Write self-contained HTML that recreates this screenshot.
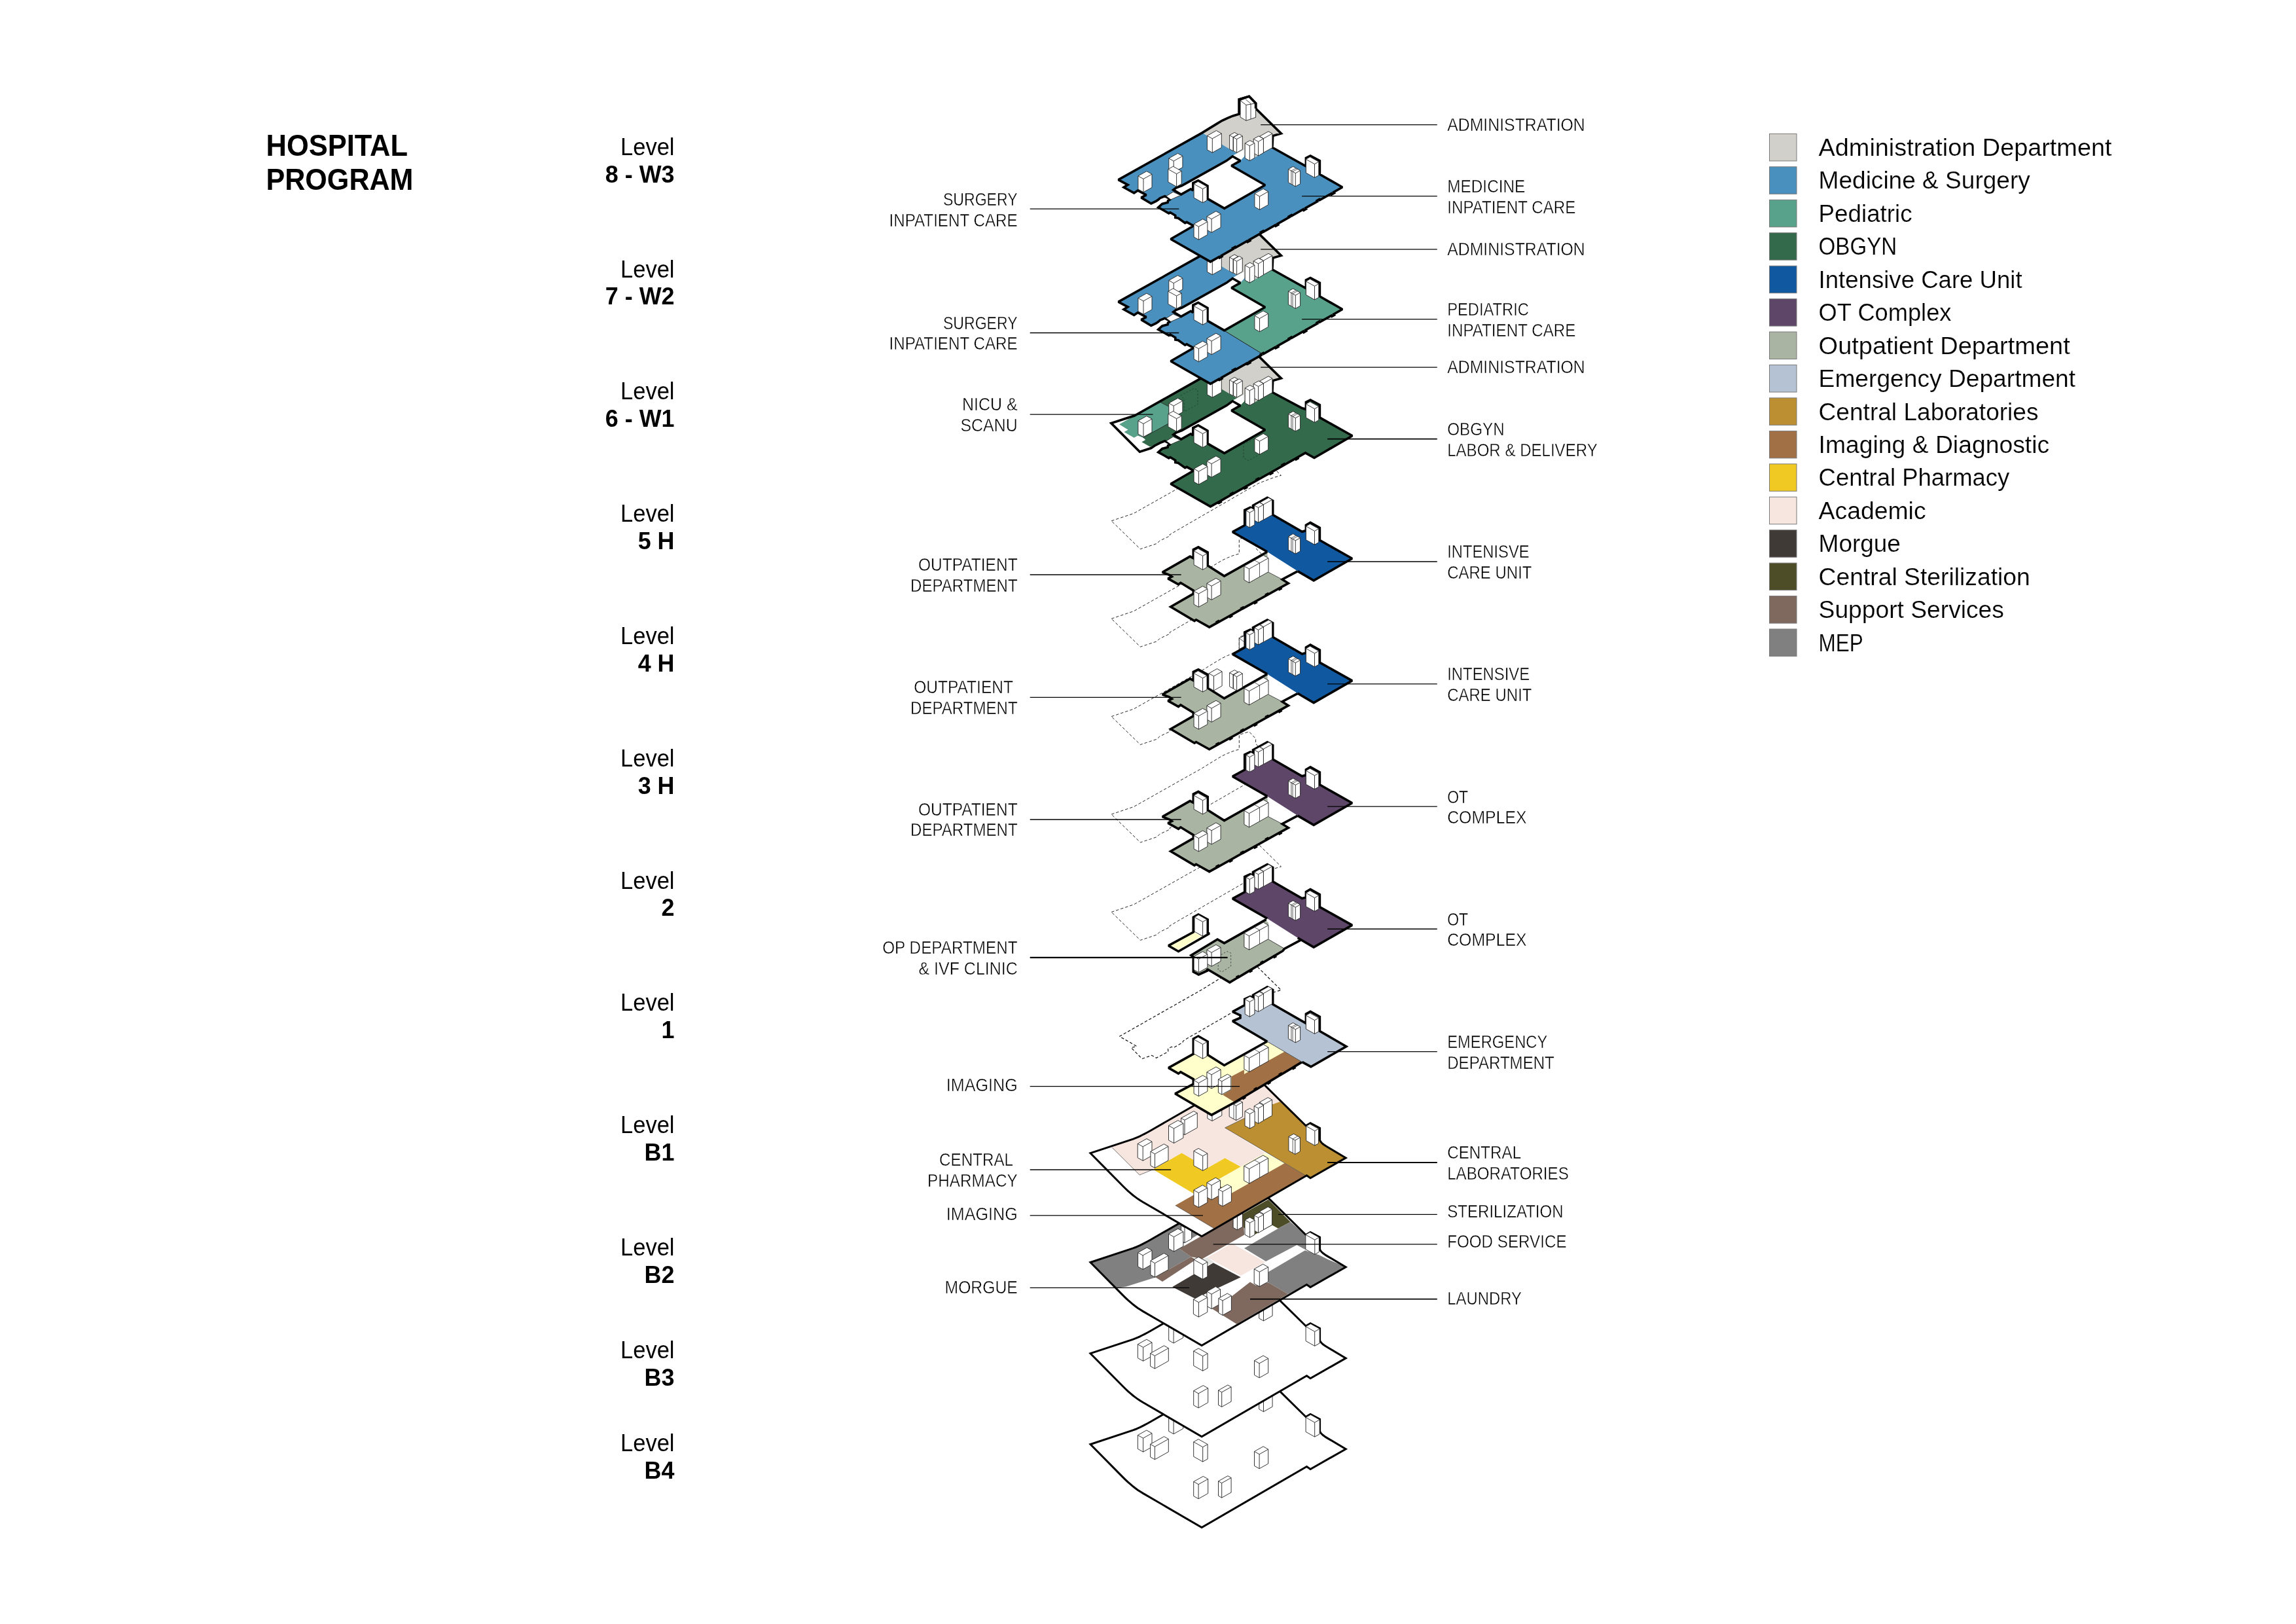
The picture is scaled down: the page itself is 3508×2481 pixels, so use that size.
<!DOCTYPE html>
<html><head><meta charset="utf-8"><title>Hospital Program</title>
<style>
html,body{margin:0;padding:0;background:#fff;}
body{width:3508px;height:2481px;overflow:hidden;font-family:"Liberation Sans",sans-serif;}
svg{display:block;position:absolute;left:0;top:0;will-change:transform}
text{font-family:"Liberation Sans",sans-serif;fill:#000}
</style></head><body>
<svg width="3508" height="2481" viewBox="0 0 3508 2481">
<rect width="3508" height="2481" fill="#fff"/>
<polygon points="1698.1,795.8 1732.2,784.3 1836.8,725.3 1847.7,718.5 1858.7,711.8 1867.1,706.7 1875.6,702.7 1884,699.3 1893.3,696.6 1893.3,674.3 1908.5,669.6 1918.6,680.2 1918.6,688.2 1957.4,726.3 1944.7,730 1922.8,738.4 1801.3,808.5 1787,816.9 1787.8,818.6 1771.8,826.2 1767.6,830.4 1742.3,838.8" fill="none" stroke="#111" stroke-width="0.9" stroke-linejoin="miter" stroke-miterlimit="2" stroke-dasharray="4.4 3"/>
<polygon points="1698.1,945.2 1732.2,933.7 1836.8,874.7 1847.7,867.9 1858.7,861.2 1867.1,856.1 1875.6,852.1 1884,848.7 1893.3,846 1893.3,823.7 1908.5,819 1918.6,829.6 1918.6,837.6 1957.4,875.7 1944.7,879.4 1922.8,887.8 1801.3,957.9 1787,966.3 1787.8,968 1771.8,975.6 1767.6,979.8 1742.3,988.2" fill="none" stroke="#111" stroke-width="0.9" stroke-linejoin="miter" stroke-miterlimit="2" stroke-dasharray="4.4 3"/>
<polygon points="1698.1,1094.6 1732.2,1083.1 1836.8,1024.1 1847.7,1017.3 1858.7,1010.6 1867.1,1005.5 1875.6,1001.5 1884,998.1 1893.3,995.4 1893.3,973.1 1908.5,968.4 1918.6,979 1918.6,987 1957.4,1025.1 1944.7,1028.8 1922.8,1037.2 1801.3,1107.3 1787,1115.7 1787.8,1117.4 1771.8,1125 1767.6,1129.2 1742.3,1137.6" fill="none" stroke="#111" stroke-width="0.9" stroke-linejoin="miter" stroke-miterlimit="2" stroke-dasharray="4.4 3"/>
<polygon points="1698.1,1244 1732.2,1232.5 1836.8,1173.5 1847.7,1166.7 1858.7,1160 1867.1,1154.9 1875.6,1150.9 1884,1147.5 1893.3,1144.8 1893.3,1122.5 1908.5,1117.8 1918.6,1128.4 1918.6,1136.4 1957.4,1174.5 1944.7,1178.2 1922.8,1186.6 1801.3,1256.7 1787,1265.1 1787.8,1266.8 1771.8,1274.4 1767.6,1278.6 1742.3,1287" fill="none" stroke="#111" stroke-width="0.9" stroke-linejoin="miter" stroke-miterlimit="2" stroke-dasharray="4.4 3"/>
<polygon points="1698.1,1393.4 1732.2,1381.9 1836.8,1322.9 1847.7,1316.1 1858.7,1309.4 1867.1,1304.3 1875.6,1300.3 1884,1296.9 1893.3,1294.2 1893.3,1271.9 1908.5,1267.2 1918.6,1277.8 1918.6,1285.8 1957.4,1323.9 1944.7,1327.6 1922.8,1336 1801.3,1406.1 1787,1414.5 1787.8,1416.2 1771.8,1423.8 1767.6,1428 1742.3,1436.4" fill="none" stroke="#111" stroke-width="0.9" stroke-linejoin="miter" stroke-miterlimit="2" stroke-dasharray="4.4 3"/>
<polyline points="1879.9,1548.3 1812,1587.5 1808,1590.1 1806.7,1592.7 1794.1,1600.1 1789.7,1599.3 1784.5,1602.3 1784.9,1606.7 1766.7,1616.2 1759.7,1612.3 1744.9,1617.5 1728.3,1600.6 1736.6,1598.4 1710.5,1583.3 1836.8,1511.6 1847.7,1504.8 1858.7,1498.1 1867.1,1493 1875.6,1489 1884,1485.6 1893.3,1482.9 1893.3,1460.6 1908.5,1455.9 1918.6,1466.5 1918.6,1474.5 1957.4,1512.6 1944.7,1516.3" fill="none" stroke="#111" stroke-width="1.2" stroke-linejoin="miter" stroke-miterlimit="2" stroke-dasharray="4.4 3"/>
<polygon points="1666,2206.5 1729,2185.7 1731.9,2184.7 1734.9,2183.5 1738.1,2182.1 1741.5,2180.6 1745.1,2178.8 1748.9,2176.9 1752.9,2174.8 1757,2172.5 1912.5,2083.2 1995.1,2164.5 2002.1,2160.5 2016.6,2168.1 2016.6,2185.7 2016.7,2186.8 2017.3,2188.1 2018.2,2189.4 2019.5,2190.8 2021.1,2192.3 2023.1,2193.8 2025.4,2195.4 2028.2,2197.1 2056.2,2213.7 2002.1,2244.5 1996.5,2240.5 1836.1,2333.5 1746,2281.1 1742.3,2278.8 1738.6,2276.4 1734.9,2273.7 1731.1,2270.8 1727.4,2267.7 1723.6,2264.4 1719.8,2260.8 1716,2257.1" fill="#fff" stroke="#000" stroke-width="3.0" stroke-linejoin="miter" stroke-miterlimit="2" />
<g stroke="#222" stroke-width="0.9" stroke-linejoin="round" fill="#fff"><polygon points="1923.7,2152.8 1930.5,2156.7 1944.1,2149 1944.1,2127 1937.3,2123.2 1923.7,2130.8"/><polyline points="1923.7,2130.8 1930.5,2134.6 1944.1,2127" fill="none"/><line x1="1930.5" y1="2156.7" x2="1930.5" y2="2134.6"/></g>
<g stroke="#222" stroke-width="0.9" stroke-linejoin="round" fill="#fff"><polygon points="1785.7,2186.5 1793.1,2190.7 1807.7,2182.5 1807.7,2160.5 1800.3,2156.3 1785.7,2164.5"/><polyline points="1785.7,2164.5 1793.1,2168.7 1807.7,2160.5" fill="none"/><line x1="1793.1" y1="2190.7" x2="1793.1" y2="2168.7"/></g>
<g stroke="#222" stroke-width="0.9" stroke-linejoin="round" fill="#fff"><polygon points="1738.4,2213.5 1746.6,2218.1 1760,2210.6 1760,2189.6 1751.8,2185 1738.4,2192.5"/><polyline points="1738.4,2192.5 1746.6,2197.1 1760,2189.6" fill="none"/><line x1="1746.6" y1="2218.1" x2="1746.6" y2="2197.1"/></g>
<g stroke="#222" stroke-width="0.9" stroke-linejoin="round" fill="#fff"><polygon points="1757.6,2225.9 1764.4,2229.7 1785.3,2218 1785.3,2198.4 1778.5,2194.6 1757.6,2206.3"/><polyline points="1757.6,2206.3 1764.4,2210.1 1785.3,2198.4" fill="none"/><line x1="1764.4" y1="2229.7" x2="1764.4" y2="2210.1"/></g>
<g stroke="#222" stroke-width="0.9" stroke-linejoin="round" fill="#fff"><polygon points="1823.7,2225.2 1837.7,2233.1 1845.1,2228.9 1845.1,2206.5 1831.1,2198.7 1823.7,2202.8"/><polyline points="1823.7,2202.8 1837.7,2210.7 1845.1,2206.5" fill="none"/><line x1="1837.7" y1="2233.1" x2="1837.7" y2="2210.7"/></g>
<g stroke="#222" stroke-width="0.9" stroke-linejoin="round" fill="#fff"><polygon points="1916.5,2239.4 1924.1,2243.7 1937.7,2236.1 1937.7,2214.1 1930.1,2209.8 1916.5,2217.4"/><polyline points="1916.5,2217.4 1924.1,2221.7 1937.7,2214.1" fill="none"/><line x1="1924.1" y1="2243.7" x2="1924.1" y2="2221.7"/></g>
<g stroke="#222" stroke-width="0.9" stroke-linejoin="round" fill="#fff"><polygon points="1823.7,2285.6 1831.1,2289.7 1845.7,2281.5 1845.7,2259.5 1838.3,2255.4 1823.7,2263.5"/><polyline points="1823.7,2263.5 1831.1,2267.7 1845.7,2259.5" fill="none"/><line x1="1831.1" y1="2289.7" x2="1831.1" y2="2267.7"/></g>
<g stroke="#222" stroke-width="0.9" stroke-linejoin="round" fill="#fff"><polygon points="1861.5,2285.2 1866.7,2288.1 1881.1,2280 1881.1,2257.6 1875.9,2254.7 1861.5,2262.8"/><polyline points="1861.5,2262.8 1866.7,2265.7 1881.1,2257.6" fill="none"/><line x1="1866.7" y1="2288.1" x2="1866.7" y2="2265.7"/></g>
<g stroke="#222" stroke-width="0.9" stroke-linejoin="round" fill="#fff"><polygon points="1995.1,2187.4 2008.7,2195.1 2016.2,2190.9 2016.2,2168.9 2002.5,2161.3 1995.1,2165.4"/><polyline points="1995.1,2165.4 2008.7,2173.1 2016.2,2168.9" fill="none"/><line x1="2008.7" y1="2195.1" x2="2008.7" y2="2173.1"/></g>
<polygon points="1666,2067.7 1729,2046.9 1731.9,2045.9 1734.9,2044.7 1738.1,2043.3 1741.5,2041.8 1745.1,2040 1748.9,2038.1 1752.9,2036 1757,2033.7 1912.5,1944.4 1995.1,2025.7 2002.1,2021.7 2016.6,2029.3 2016.6,2046.9 2016.7,2048 2017.3,2049.3 2018.2,2050.6 2019.5,2052 2021.1,2053.5 2023.1,2055 2025.4,2056.6 2028.2,2058.3 2056.2,2074.9 2002.1,2105.7 1996.5,2101.7 1836.1,2194.7 1746,2142.3 1742.3,2140 1738.6,2137.6 1734.9,2134.9 1731.1,2132 1727.4,2128.9 1723.6,2125.6 1719.8,2122 1716,2118.3" fill="#fff" stroke="#000" stroke-width="3.0" stroke-linejoin="miter" stroke-miterlimit="2" />
<g stroke="#222" stroke-width="0.9" stroke-linejoin="round" fill="#fff"><polygon points="1923.7,2014 1930.5,2017.9 1944.1,2010.2 1944.1,1988.2 1937.3,1984.4 1923.7,1992"/><polyline points="1923.7,1992 1930.5,1995.8 1944.1,1988.2" fill="none"/><line x1="1930.5" y1="2017.9" x2="1930.5" y2="1995.8"/></g>
<g stroke="#222" stroke-width="0.9" stroke-linejoin="round" fill="#fff"><polygon points="1785.7,2047.7 1793.1,2051.9 1807.7,2043.7 1807.7,2021.7 1800.3,2017.5 1785.7,2025.7"/><polyline points="1785.7,2025.7 1793.1,2029.9 1807.7,2021.7" fill="none"/><line x1="1793.1" y1="2051.9" x2="1793.1" y2="2029.9"/></g>
<g stroke="#222" stroke-width="0.9" stroke-linejoin="round" fill="#fff"><polygon points="1738.4,2074.7 1746.6,2079.3 1760,2071.8 1760,2050.8 1751.8,2046.2 1738.4,2053.7"/><polyline points="1738.4,2053.7 1746.6,2058.3 1760,2050.8" fill="none"/><line x1="1746.6" y1="2079.3" x2="1746.6" y2="2058.3"/></g>
<g stroke="#222" stroke-width="0.9" stroke-linejoin="round" fill="#fff"><polygon points="1757.6,2087.1 1764.4,2090.9 1785.3,2079.2 1785.3,2059.6 1778.5,2055.8 1757.6,2067.5"/><polyline points="1757.6,2067.5 1764.4,2071.3 1785.3,2059.6" fill="none"/><line x1="1764.4" y1="2090.9" x2="1764.4" y2="2071.3"/></g>
<g stroke="#222" stroke-width="0.9" stroke-linejoin="round" fill="#fff"><polygon points="1823.7,2086.4 1837.7,2094.3 1845.1,2090.1 1845.1,2067.7 1831.1,2059.9 1823.7,2064"/><polyline points="1823.7,2064 1837.7,2071.9 1845.1,2067.7" fill="none"/><line x1="1837.7" y1="2094.3" x2="1837.7" y2="2071.9"/></g>
<g stroke="#222" stroke-width="0.9" stroke-linejoin="round" fill="#fff"><polygon points="1916.5,2100.6 1924.1,2104.9 1937.7,2097.3 1937.7,2075.3 1930.1,2071 1916.5,2078.6"/><polyline points="1916.5,2078.6 1924.1,2082.9 1937.7,2075.3" fill="none"/><line x1="1924.1" y1="2104.9" x2="1924.1" y2="2082.9"/></g>
<g stroke="#222" stroke-width="0.9" stroke-linejoin="round" fill="#fff"><polygon points="1823.7,2146.8 1831.1,2150.9 1845.7,2142.7 1845.7,2120.7 1838.3,2116.6 1823.7,2124.7"/><polyline points="1823.7,2124.7 1831.1,2128.9 1845.7,2120.7" fill="none"/><line x1="1831.1" y1="2150.9" x2="1831.1" y2="2128.9"/></g>
<g stroke="#222" stroke-width="0.9" stroke-linejoin="round" fill="#fff"><polygon points="1861.5,2146.4 1866.7,2149.3 1881.1,2141.2 1881.1,2118.8 1875.9,2115.9 1861.5,2124"/><polyline points="1861.5,2124 1866.7,2126.9 1881.1,2118.8" fill="none"/><line x1="1866.7" y1="2149.3" x2="1866.7" y2="2126.9"/></g>
<g stroke="#222" stroke-width="0.9" stroke-linejoin="round" fill="#fff"><polygon points="1995.1,2048.6 2008.7,2056.3 2016.2,2052.1 2016.2,2030.1 2002.5,2022.5 1995.1,2026.6"/><polyline points="1995.1,2026.6 2008.7,2034.3 2016.2,2030.1" fill="none"/><line x1="2008.7" y1="2056.3" x2="2008.7" y2="2034.3"/></g>
<polygon points="1666,1928.5 1729,1907.7 1731.9,1906.7 1734.9,1905.5 1738.1,1904.1 1741.5,1902.6 1745.1,1900.8 1748.9,1898.9 1752.9,1896.8 1757,1894.5 1912.5,1805.2 1995.1,1886.5 2002.1,1882.5 2016.6,1890.1 2016.6,1907.7 2016.7,1908.8 2017.3,1910.1 2018.2,1911.4 2019.5,1912.8 2021.1,1914.3 2023.1,1915.8 2025.4,1917.4 2028.2,1919.1 2056.2,1935.7 2002.1,1966.5 1996.5,1962.5 1836.1,2055.5 1746,2003.1 1742.3,2000.8 1738.6,1998.4 1734.9,1995.7 1731.1,1992.8 1727.4,1989.7 1723.6,1986.4 1719.8,1982.8 1716,1979.1" fill="#fff" stroke="none" stroke-width="3.6" stroke-linejoin="miter" stroke-miterlimit="2" />
<clipPath id="cb2"><polygon points="1666,1928.5 1729,1907.7 1731.9,1906.7 1734.9,1905.5 1738.1,1904.1 1741.5,1902.6 1745.1,1900.8 1748.9,1898.9 1752.9,1896.8 1757,1894.5 1912.5,1805.2 1995.1,1886.5 2002.1,1882.5 2016.6,1890.1 2016.6,1907.7 2016.7,1908.8 2017.3,1910.1 2018.2,1911.4 2019.5,1912.8 2021.1,1914.3 2023.1,1915.8 2025.4,1917.4 2028.2,1919.1 2056.2,1935.7 2002.1,1966.5 1996.5,1962.5 1836.1,2055.5 1746,2003.1 1742.3,2000.8 1738.6,1998.4 1734.9,1995.7 1731.1,1992.8 1727.4,1989.7 1723.6,1986.4 1719.8,1982.8 1716,1979.1"/></clipPath><g clip-path="url(#cb2)">
<polygon points="1665.7,1928.4 1663.6,1909.3 1752.9,1873.6 1838.6,1830.7 1838.6,1881.6 1808.2,1899.5 1802,1907.5 1819.8,1920 1764.5,1951.8 1720.7,1965.5 1704.6,1967.9" fill="#808080" stroke="none" stroke-width="3.6" stroke-linejoin="miter" stroke-miterlimit="2" />
<polygon points="1802,1907.5 1899.3,1852.1 1901.1,1886.4 1836.8,1923.2 1819.8,1920" fill="#7f685e" stroke="none" stroke-width="3.6" stroke-linejoin="miter" stroke-miterlimit="2" />
<polygon points="1765.4,1951.2 1819.8,1920 1827,1924.5 1776.1,1957.9" fill="#7f685e" stroke="none" stroke-width="3.6" stroke-linejoin="miter" stroke-miterlimit="2" />
<polygon points="1898.4,1854.8 1937.7,1832.5 1971.6,1866.8 1952.9,1876.8 1943.9,1871.8 1917.1,1886.1 1900.2,1875.4" fill="#4d4d27" stroke="none" stroke-width="3.6" stroke-linejoin="miter" stroke-miterlimit="2" />
<polygon points="1901.1,1907.1 1952.9,1876.8 1971.6,1866.8 1994.8,1887 1994.8,1909.3 1981.4,1902.1 1934.1,1927.1" fill="#808080" stroke="none" stroke-width="3.6" stroke-linejoin="miter" stroke-miterlimit="2" />
<polygon points="1937.7,1943.2 1993.9,1910.2 2015.4,1917.3 2027.9,1923.6 2056.4,1935.7 2002,1966.8 1996.6,1962.9 1968,1977.1 1937.7,1959.3" fill="#808080" stroke="none" stroke-width="3.6" stroke-linejoin="miter" stroke-miterlimit="2" />
<polygon points="1844.8,1920.9 1882.3,1899.5 1933.2,1928 1895.7,1948.9" fill="#f7e6df" stroke="none" stroke-width="3.6" stroke-linejoin="miter" stroke-miterlimit="2" />
<polygon points="1791.2,1966.1 1853.8,1929.3 1895.7,1951.2 1826.1,1983.9" fill="#403a36" stroke="none" stroke-width="3.6" stroke-linejoin="miter" stroke-miterlimit="2" />
<polygon points="1837.7,1923.6 1844.8,1920.9 1854.6,1928 1845.7,1932.5" fill="#e4e4e2" stroke="none" stroke-width="3.6" stroke-linejoin="miter" stroke-miterlimit="2" />
<polygon points="1852,1999.5 1880.5,1981.6 1910,1958.4 1918.9,1963.8 1937.7,1959.3 1968,1977.1 1889.5,2022.7" fill="#7f685e" stroke="none" stroke-width="3.6" stroke-linejoin="miter" stroke-miterlimit="2" />
</g>
<polygon points="1666,1928.5 1729,1907.7 1731.9,1906.7 1734.9,1905.5 1738.1,1904.1 1741.5,1902.6 1745.1,1900.8 1748.9,1898.9 1752.9,1896.8 1757,1894.5 1912.5,1805.2 1995.1,1886.5 2002.1,1882.5 2016.6,1890.1 2016.6,1907.7 2016.7,1908.8 2017.3,1910.1 2018.2,1911.4 2019.5,1912.8 2021.1,1914.3 2023.1,1915.8 2025.4,1917.4 2028.2,1919.1 2056.2,1935.7 2002.1,1966.5 1996.5,1962.5 1836.1,2055.5 1746,2003.1 1742.3,2000.8 1738.6,1998.4 1734.9,1995.7 1731.1,1992.8 1727.4,1989.7 1723.6,1986.4 1719.8,1982.8 1716,1979.1" fill="none" stroke="#000" stroke-width="3.0" stroke-linejoin="miter" stroke-miterlimit="2" />
<g stroke="#222" stroke-width="0.9" stroke-linejoin="round" fill="#fff"><polygon points="1804.6,1895.6 1810,1898.6 1820.7,1892.6 1820.7,1869.4 1815.4,1866.4 1804.6,1872.4"/><polyline points="1804.6,1872.4 1810,1875.4 1820.7,1869.4" fill="none"/><line x1="1810" y1="1898.6" x2="1810" y2="1875.4"/></g>
<g stroke="#222" stroke-width="0.9" stroke-linejoin="round" fill="#fff"><polygon points="1785.5,1907.5 1793.6,1912 1807.9,1904 1807.9,1881.6 1799.8,1877.1 1785.5,1885.1"/><polyline points="1785.5,1885.1 1793.6,1889.6 1807.9,1881.6" fill="none"/><line x1="1793.6" y1="1912" x2="1793.6" y2="1889.6"/></g>
<g stroke="#222" stroke-width="0.9" stroke-linejoin="round" fill="#fff"><polygon points="1738.6,1935 1746.2,1939.3 1760,1931.6 1760,1910.2 1752.3,1905.9 1738.6,1913.6"/><polyline points="1738.6,1913.6 1746.2,1917.9 1760,1910.2" fill="none"/><line x1="1746.2" y1="1939.3" x2="1746.2" y2="1917.9"/></g>
<g stroke="#222" stroke-width="0.9" stroke-linejoin="round" fill="#fff"><polygon points="1757.9,1947.5 1764.5,1951.2 1785,1939.8 1785,1918.3 1778.4,1914.6 1757.9,1926.1"/><polyline points="1757.9,1926.1 1764.5,1929.8 1785,1918.3" fill="none"/><line x1="1764.5" y1="1951.2" x2="1764.5" y2="1929.8"/></g>
<g stroke="#222" stroke-width="0.9" stroke-linejoin="round" fill="#fff"><polygon points="1823.9,1946.6 1837.7,1954.3 1844.8,1950.3 1844.8,1928 1831.1,1920.3 1823.9,1924.3"/><polyline points="1823.9,1924.3 1837.7,1932 1844.8,1928" fill="none"/><line x1="1837.7" y1="1954.3" x2="1837.7" y2="1932"/></g>
<g stroke="#222" stroke-width="0.9" stroke-linejoin="round" fill="#fff"><polygon points="1884.1,1875.4 1890.4,1878.9 1898.4,1874.4 1898.4,1850.3 1892.1,1846.8 1884.1,1851.3"/><polyline points="1884.1,1851.3 1890.4,1854.8 1898.4,1850.3" fill="none"/><line x1="1890.4" y1="1878.9" x2="1890.4" y2="1854.8"/></g>
<g stroke="#222" stroke-width="0.9" stroke-linejoin="round" fill="#fff"><polygon points="1924.3,1875.1 1930.5,1878.6 1943.6,1871.3 1943.6,1847.2 1937.3,1843.7 1924.3,1851"/><polyline points="1924.3,1851 1930.5,1854.5 1943.6,1847.2" fill="none"/><line x1="1930.5" y1="1878.6" x2="1930.5" y2="1854.5"/></g>
<g stroke="#222" stroke-width="0.9" stroke-linejoin="round" fill="#fff"><polygon points="1916.2,1879.9 1922.5,1883.4 1930.5,1878.9 1930.5,1855.7 1924.3,1852.2 1916.2,1856.7"/><polyline points="1916.2,1856.7 1922.5,1860.2 1930.5,1855.7" fill="none"/><line x1="1922.5" y1="1883.4" x2="1922.5" y2="1860.2"/></g>
<g stroke="#222" stroke-width="0.9" stroke-linejoin="round" fill="#fff"><polygon points="1902,1886.2 1909.6,1890.5 1917.1,1886.3 1917.1,1864 1909.5,1859.7 1902,1863.9"/><polyline points="1902,1863.9 1909.6,1868.2 1917.1,1864" fill="none"/><line x1="1909.6" y1="1890.5" x2="1909.6" y2="1868.2"/></g>
<g stroke="#222" stroke-width="0.9" stroke-linejoin="round" fill="#fff"><polygon points="1994.8,1908.6 2008.8,1916.4 2015.4,1912.7 2015.4,1890.4 2001.4,1882.6 1994.8,1886.3"/><polyline points="1994.8,1886.3 2008.8,1894.1 2015.4,1890.4" fill="none"/><line x1="2008.8" y1="1916.4" x2="2008.8" y2="1894.1"/></g>
<g stroke="#222" stroke-width="0.9" stroke-linejoin="round" fill="#fff"><polygon points="1916.2,1961 1924.3,1965.5 1937.7,1958 1937.7,1935.7 1929.6,1931.2 1916.2,1938.7"/><polyline points="1916.2,1938.7 1924.3,1943.2 1937.7,1935.7" fill="none"/><line x1="1924.3" y1="1965.5" x2="1924.3" y2="1943.2"/></g>
<g stroke="#222" stroke-width="0.9" stroke-linejoin="round" fill="#fff"><polygon points="1843.9,1995.5 1851.1,1999.5 1864.5,1992 1864.5,1969.6 1857.3,1965.6 1843.9,1973.1"/><polyline points="1843.9,1973.1 1851.1,1977.1 1864.5,1969.6" fill="none"/><line x1="1851.1" y1="1999.5" x2="1851.1" y2="1977.1"/></g>
<g stroke="#222" stroke-width="0.9" stroke-linejoin="round" fill="#fff"><polygon points="1823.4,2007.5 1831.4,2012 1844.8,2004.5 1844.8,1982.1 1836.8,1977.6 1823.4,1985.1"/><polyline points="1823.4,1985.1 1831.4,1989.6 1844.8,1982.1" fill="none"/><line x1="1831.4" y1="2012" x2="1831.4" y2="1989.6"/></g>
<g stroke="#222" stroke-width="0.9" stroke-linejoin="round" fill="#fff"><polygon points="1861.8,2005.8 1868,2009.3 1881.4,2001.8 1881.4,1979.5 1875.2,1976 1861.8,1983.5"/><polyline points="1861.8,1983.5 1868,1987 1881.4,1979.5" fill="none"/><line x1="1868" y1="2009.3" x2="1868" y2="1987"/></g>
<polygon points="1666,1761.7 1729,1740.9 1731.9,1739.9 1734.9,1738.7 1738.1,1737.3 1741.5,1735.8 1745.1,1734 1748.9,1732.1 1752.9,1730 1757,1727.7 1912.5,1638.4 1995.1,1719.7 2002.1,1715.7 2016.6,1723.3 2016.6,1740.9 2016.7,1742 2017.3,1743.3 2018.2,1744.6 2019.5,1746 2021.1,1747.5 2023.1,1749 2025.4,1750.6 2028.2,1752.3 2056.2,1768.9 2002.1,1799.7 1996.5,1795.7 1836.1,1888.7 1746,1836.3 1742.3,1834 1738.6,1831.6 1734.9,1828.9 1731.1,1826 1727.4,1822.9 1723.6,1819.6 1719.8,1816 1716,1812.3" fill="#fff" stroke="none" stroke-width="3.6" stroke-linejoin="miter" stroke-miterlimit="2" />
<clipPath id="cb1"><polygon points="1666,1761.7 1729,1740.9 1731.9,1739.9 1734.9,1738.7 1738.1,1737.3 1741.5,1735.8 1745.1,1734 1748.9,1732.1 1752.9,1730 1757,1727.7 1912.5,1638.4 1995.1,1719.7 2002.1,1715.7 2016.6,1723.3 2016.6,1740.9 2016.7,1742 2017.3,1743.3 2018.2,1744.6 2019.5,1746 2021.1,1747.5 2023.1,1749 2025.4,1750.6 2028.2,1752.3 2056.2,1768.9 2002.1,1799.7 1996.5,1795.7 1836.1,1888.7 1746,1836.3 1742.3,1834 1738.6,1831.6 1734.9,1828.9 1731.1,1826 1727.4,1822.9 1723.6,1819.6 1719.8,1816 1716,1812.3"/></clipPath><g clip-path="url(#cb1)">
<polygon points="1699.3,1753.2 1695.7,1735.7 1752.9,1703.6 1821.6,1667.9 1932.3,1641.1 1955.5,1683 1944.8,1687.1 1871.6,1722.9 1933.2,1761.6 1895.7,1782.5 1871.6,1769.3 1837.7,1788.4 1805.5,1761.6 1761.8,1786.6 1741.2,1795" fill="#f7e6df" stroke="none" stroke-width="3.6" stroke-linejoin="miter" stroke-miterlimit="2" />
<polygon points="1871.6,1722.9 1944.8,1687.1 1955.5,1683 1994.8,1718.8 2002,1716.1 2016.8,1724.1 2016.8,1742.9 2027.9,1753.6 2056.4,1768.8 2002,1800.4 1995.7,1796.4" fill="#bd8f33" stroke="none" stroke-width="3.6" stroke-linejoin="miter" stroke-miterlimit="2" />
<polygon points="1761.8,1786.6 1805.5,1761.6 1837.7,1780.4 1837.7,1788.4 1871.6,1769.3 1895.7,1782.5 1823.4,1823.2" fill="#f0ca22" stroke="none" stroke-width="3.6" stroke-linejoin="miter" stroke-miterlimit="2" />
<polygon points="1856.4,1805.4 1895.7,1782.5 1933.2,1761.6 1962.7,1777.1 1881.4,1822.9 1865.4,1814.3" fill="#ffffcb" stroke="none" stroke-width="3.6" stroke-linejoin="miter" stroke-miterlimit="2" />
<polygon points="1795.7,1841.4 1856.4,1807.1 1881.4,1822.9 1962.7,1777.1 1995.7,1796.4 1854.6,1876.4" fill="#a27045" stroke="none" stroke-width="3.6" stroke-linejoin="miter" stroke-miterlimit="2" />
<polyline points="1699.3,1753.2 1741.2,1795 1761.8,1786.6" fill="none" stroke="#444" stroke-width="0.7" stroke-linejoin="miter" stroke-miterlimit="2" />
<polyline points="1944.8,1687.1 1871.6,1722.9 1995.7,1796.4" fill="none" stroke="#444" stroke-width="0.7" stroke-linejoin="miter" stroke-miterlimit="2" />
<polyline points="1795.7,1841.4 1854.6,1876.4" fill="none" stroke="#444" stroke-width="0.7" stroke-linejoin="miter" stroke-miterlimit="2" />
</g>
<polygon points="1666,1761.7 1729,1740.9 1731.9,1739.9 1734.9,1738.7 1738.1,1737.3 1741.5,1735.8 1745.1,1734 1748.9,1732.1 1752.9,1730 1757,1727.7 1912.5,1638.4 1995.1,1719.7 2002.1,1715.7 2016.6,1723.3 2016.6,1740.9 2016.7,1742 2017.3,1743.3 2018.2,1744.6 2019.5,1746 2021.1,1747.5 2023.1,1749 2025.4,1750.6 2028.2,1752.3 2056.2,1768.9 2002.1,1799.7 1996.5,1795.7 1836.1,1888.7 1746,1836.3 1742.3,1834 1738.6,1831.6 1734.9,1828.9 1731.1,1826 1727.4,1822.9 1723.6,1819.6 1719.8,1816 1716,1812.3" fill="none" stroke="#000" stroke-width="3.0" stroke-linejoin="miter" stroke-miterlimit="2" />
<g stroke="#222" stroke-width="0.9" stroke-linejoin="round" fill="#fff"><polygon points="1844.8,1708.5 1852,1712.5 1866.8,1704.2 1866.8,1686.3 1859.6,1682.3 1844.8,1690.6"/><polyline points="1844.8,1690.6 1852,1694.6 1866.8,1686.3" fill="none"/><line x1="1852" y1="1712.5" x2="1852" y2="1694.6"/></g>
<g stroke="#222" stroke-width="0.9" stroke-linejoin="round" fill="#fff"><polygon points="1804.6,1730.6 1810,1733.6 1829.3,1722.8 1829.3,1700.5 1823.9,1697.5 1804.6,1708.2"/><polyline points="1804.6,1708.2 1810,1711.2 1829.3,1700.5" fill="none"/><line x1="1810" y1="1733.6" x2="1810" y2="1711.2"/></g>
<g stroke="#222" stroke-width="0.9" stroke-linejoin="round" fill="#fff"><polygon points="1785.5,1741.9 1793.6,1746.4 1807.9,1738.4 1807.9,1716.1 1799.8,1711.6 1785.5,1719.6"/><polyline points="1785.5,1719.6 1793.6,1724.1 1807.9,1716.1" fill="none"/><line x1="1793.6" y1="1746.4" x2="1793.6" y2="1724.1"/></g>
<g stroke="#222" stroke-width="0.9" stroke-linejoin="round" fill="#fff"><polygon points="1738.2,1768.7 1746.2,1773.2 1760,1765.5 1760,1744.1 1752,1739.6 1738.2,1747.3"/><polyline points="1738.2,1747.3 1746.2,1751.8 1760,1744.1" fill="none"/><line x1="1746.2" y1="1773.2" x2="1746.2" y2="1751.8"/></g>
<g stroke="#222" stroke-width="0.9" stroke-linejoin="round" fill="#fff"><polygon points="1757.9,1780.6 1764.5,1784.3 1785,1772.8 1785,1751.4 1778.4,1747.7 1757.9,1759.2"/><polyline points="1757.9,1759.2 1764.5,1762.9 1785,1751.4" fill="none"/><line x1="1764.5" y1="1784.3" x2="1764.5" y2="1762.9"/></g>
<g stroke="#222" stroke-width="0.9" stroke-linejoin="round" fill="#fff"><polygon points="1823.9,1780.7 1837.7,1788.4 1844.8,1784.4 1844.8,1762.1 1831.1,1754.4 1823.9,1758.4"/><polyline points="1823.9,1758.4 1837.7,1766.1 1844.8,1762.1" fill="none"/><line x1="1837.7" y1="1788.4" x2="1837.7" y2="1766.1"/></g>
<g stroke="#222" stroke-width="0.9" stroke-linejoin="round" fill="#fff"><polygon points="1878.2,1705.8 1888.6,1711.6 1898.4,1706.1 1898.4,1683.8 1888,1678 1878.2,1683.5"/><polyline points="1878.2,1683.5 1888.6,1689.3 1898.4,1683.8" fill="none"/><line x1="1888.6" y1="1711.6" x2="1888.6" y2="1689.3"/><polyline points="1885,1709.6 1885,1687.3 1894.8,1681.8" fill="none" stroke-width="0.7200000000000001"/></g>
<g stroke="#222" stroke-width="0.9" stroke-linejoin="round" fill="#fff"><polygon points="1924.3,1708.1 1930.5,1711.6 1943.6,1704.3 1943.6,1680.2 1937.3,1676.7 1924.3,1684"/><polyline points="1924.3,1684 1930.5,1687.5 1943.6,1680.2" fill="none"/><line x1="1930.5" y1="1711.6" x2="1930.5" y2="1687.5"/></g>
<g stroke="#222" stroke-width="0.9" stroke-linejoin="round" fill="#fff"><polygon points="1916.2,1712.9 1922.5,1716.4 1930.5,1711.9 1930.5,1688.7 1924.3,1685.2 1916.2,1689.7"/><polyline points="1916.2,1689.7 1922.5,1693.2 1930.5,1688.7" fill="none"/><line x1="1922.5" y1="1716.4" x2="1922.5" y2="1693.2"/></g>
<g stroke="#222" stroke-width="0.9" stroke-linejoin="round" fill="#fff"><polygon points="1902,1719.8 1909.6,1724.1 1917.1,1719.9 1917.1,1697.6 1909.5,1693.3 1902,1697.5"/><polyline points="1902,1697.5 1909.6,1701.8 1917.1,1697.6" fill="none"/><line x1="1909.6" y1="1724.1" x2="1909.6" y2="1701.8"/></g>
<g stroke="#222" stroke-width="0.9" stroke-linejoin="round" fill="#fff"><polygon points="1968.9,1757.9 1978.8,1763.4 1986.4,1759.1 1986.4,1737.7 1976.6,1732.2 1968.9,1736.5"/><polyline points="1968.9,1736.5 1978.8,1742 1986.4,1737.7" fill="none"/><line x1="1978.8" y1="1763.4" x2="1978.8" y2="1742"/><polyline points="1975.2,1761.4 1975.2,1740 1982.9,1735.7" fill="none" stroke-width="0.7200000000000001"/></g>
<g stroke="#222" stroke-width="0.9" stroke-linejoin="round" fill="#fff"><polygon points="1995.7,1742.7 2008.8,1750 2014.5,1746.8 2014.5,1724.5 2001.4,1717.2 1995.7,1720.4"/><polyline points="1995.7,1720.4 2008.8,1727.7 2014.5,1724.5" fill="none"/><line x1="2008.8" y1="1750" x2="2008.8" y2="1727.7"/></g>
<g stroke="#222" stroke-width="0.9" stroke-linejoin="round" fill="#fff"><polygon points="1900.7,1803.6 1908.6,1808 1937.7,1791.7 1937.7,1769.4 1929.8,1765 1900.7,1781.3"/><polyline points="1900.7,1781.3 1908.6,1785.7 1937.7,1769.4" fill="none"/><line x1="1908.6" y1="1808" x2="1908.6" y2="1785.7"/><polyline points="1924.6,1799 1924.6,1776.7 1916.8,1772.3" fill="none" stroke-width="0.7200000000000001"/></g>
<g stroke="#222" stroke-width="0.9" stroke-linejoin="round" fill="#fff"><polygon points="1843.9,1829 1851.1,1833 1864.5,1825.5 1864.5,1803.2 1857.3,1799.2 1843.9,1806.7"/><polyline points="1843.9,1806.7 1851.1,1810.7 1864.5,1803.2" fill="none"/><line x1="1851.1" y1="1833" x2="1851.1" y2="1810.7"/></g>
<g stroke="#222" stroke-width="0.9" stroke-linejoin="round" fill="#fff"><polygon points="1823.9,1840.4 1831.4,1844.6 1844.8,1837.1 1844.8,1814.8 1837.3,1810.6 1823.9,1818.1"/><polyline points="1823.9,1818.1 1831.4,1822.3 1844.8,1814.8" fill="none"/><line x1="1831.4" y1="1844.6" x2="1831.4" y2="1822.3"/></g>
<g stroke="#222" stroke-width="0.9" stroke-linejoin="round" fill="#fff"><polygon points="1861.8,1839.4 1868,1842.9 1881.4,1835.4 1881.4,1813 1875.2,1809.5 1861.8,1817"/><polyline points="1861.8,1817 1868,1820.5 1881.4,1813" fill="none"/><line x1="1868" y1="1842.9" x2="1868" y2="1820.5"/></g>
<polygon points="1785.3,1631.4 1823.3,1610.1 1823.3,1587 1830.9,1583.1 1845.2,1591.2 1845.2,1611.5 1870.5,1627.5 1936.3,1590.7 1962.5,1606.4 1989.4,1622.4 1977,1629.9 1977.9,1631.2 1976,1632.3 1975.2,1631 1958,1641.3 1957.3,1640.2 1955.5,1641.3 1956.1,1642.4 1938.9,1652.7 1939.7,1654 1937.9,1655.1 1937.1,1653.8 1919.9,1664.1 1919.2,1663 1917.4,1664.1 1918,1665.2 1900.8,1675.5 1901.6,1676.8 1899.8,1678 1899,1676.6 1886.5,1684 1851.1,1703.4 1795.4,1670.8 1823.3,1656.2 1823.3,1648.6 1803.9,1637.6 1800.5,1640.1" fill="#ffffcb" stroke="none" stroke-width="3.6" stroke-linejoin="miter" stroke-miterlimit="2" />
<polygon points="1962.5,1606.7 1989.4,1622.4 1977,1629.9 1977.9,1631.2 1976,1632.3 1975.2,1631 1958,1641.3 1957.3,1640.2 1955.5,1641.3 1956.1,1642.4 1938.9,1652.7 1939.7,1654 1937.9,1655.1 1937.1,1653.8 1919.9,1664.1 1919.2,1663 1917.4,1664.1 1918,1665.2 1900.8,1675.5 1901.6,1676.8 1899.8,1678 1899,1676.6 1886.5,1684 1868,1672.5 1881.5,1664.6 1881.5,1644.4 1900.9,1634.2 1900.9,1641" fill="#a27045" stroke="none" stroke-width="3.6" stroke-linejoin="miter" stroke-miterlimit="2" />
<polyline points="1989.4,1622.4 1977,1629.9 1977.9,1631.2 1976,1632.3 1975.2,1631 1958,1641.3 1957.3,1640.2 1955.5,1641.3 1956.1,1642.4 1938.9,1652.7 1939.7,1654 1937.9,1655.1 1937.1,1653.8 1919.9,1664.1 1919.2,1663 1917.4,1664.1 1918,1665.2 1900.8,1675.5 1901.6,1676.8 1899.8,1678 1899,1676.6 1886.5,1684 1851.1,1703.4 1795.4,1670.8 1823.3,1656.2 1823.3,1648.6 1803.9,1637.6 1800.5,1640.1 1785.3,1631.4 1823.3,1610.1 1823.3,1587 1830.9,1583.1 1845.2,1591.2 1845.2,1611.5 1870.5,1627.5 1936.3,1590.7" fill="none" stroke="#000" stroke-width="3.6" stroke-linejoin="miter" stroke-miterlimit="2" />
<polygon points="1883.2,1545.7 1901.7,1535.5 1901.7,1526.3 1910.2,1522.4 1914.4,1524.6 1914.4,1520.4 1936.3,1507.7 1944.7,1512.3 1944.7,1534.2 1995.4,1563.4 1995.4,1549 2002.1,1545.3 2016.4,1553.3 2016.4,1575.2 2056.9,1598.8 2002.9,1629.7 1989.4,1622.4 1936.3,1591.2 1883.2,1560 1895,1555 1895,1551.1" fill="#b5c2d3" stroke="none" stroke-width="3.6" stroke-linejoin="miter" stroke-miterlimit="2" />
<polyline points="1936.3,1591.2 1883.2,1560 1895,1555 1895,1551.1 1883.2,1545.7 1901.7,1535.5 1901.7,1526.3 1910.2,1522.4 1914.4,1524.6 1914.4,1520.4 1936.3,1507.7 1944.7,1512.3 1944.7,1534.2 1995.4,1563.4 1995.4,1549 2002.1,1545.3 2016.4,1553.3 2016.4,1575.2 2056.9,1598.8 2002.9,1629.7 1989.4,1622.4" fill="none" stroke="#000" stroke-width="3.6" stroke-linejoin="miter" stroke-miterlimit="2" />
<polyline points="1936.3,1591.2 1989.4,1622.4" fill="none" stroke="#333" stroke-width="0.8" stroke-linejoin="miter" stroke-miterlimit="2" />
<g stroke="#222" stroke-width="0.9" stroke-linejoin="round" fill="#fff"><polygon points="1824.1,1609.8 1837.6,1617.4 1844,1613.8 1844,1591.8 1830.5,1584.3 1824.1,1587.9"/><polyline points="1824.1,1587.9 1837.6,1595.4 1844,1591.8" fill="none"/><line x1="1837.6" y1="1617.4" x2="1837.6" y2="1595.4"/></g>
<g stroke="#222" stroke-width="0.9" stroke-linejoin="round" fill="#fff"><polygon points="1900.9,1633.4 1908.5,1637.6 1938,1621.1 1938,1600 1930.4,1595.7 1900.9,1612.3"/><polyline points="1900.9,1612.3 1908.5,1616.5 1938,1600" fill="none"/><line x1="1908.5" y1="1637.6" x2="1908.5" y2="1616.5"/><polyline points="1924.5,1628.6 1924.5,1607.6 1916.9,1603.3" fill="none" stroke-width="0.7200000000000001"/></g>
<g stroke="#222" stroke-width="0.9" stroke-linejoin="round" fill="#fff"><polygon points="1843.9,1658.9 1851.1,1662.9 1865.1,1655.1 1865.1,1634 1857.9,1629.9 1843.9,1637.8"/><polyline points="1843.9,1637.8 1851.1,1641.8 1865.1,1634" fill="none"/><line x1="1851.1" y1="1662.9" x2="1851.1" y2="1641.8"/></g>
<g stroke="#222" stroke-width="0.9" stroke-linejoin="round" fill="#fff"><polygon points="1824.1,1670.7 1831.4,1674.7 1844.9,1667.2 1844.9,1646.9 1837.6,1642.9 1824.1,1650.4"/><polyline points="1824.1,1650.4 1831.4,1654.5 1844.9,1646.9" fill="none"/><line x1="1831.4" y1="1674.7" x2="1831.4" y2="1654.5"/></g>
<g stroke="#222" stroke-width="0.9" stroke-linejoin="round" fill="#fff"><polygon points="1861.4,1669.2 1866.8,1672.2 1880.8,1664.4 1880.8,1644.1 1875.4,1641.1 1861.4,1648.9"/><polyline points="1861.4,1648.9 1866.8,1652 1880.8,1644.1" fill="none"/><line x1="1866.8" y1="1672.2" x2="1866.8" y2="1652"/></g>
<g stroke="#222" stroke-width="0.9" stroke-linejoin="round" fill="#fff"><polygon points="1925,1537.9 1930.4,1540.9 1943.6,1533.6 1943.6,1510.3 1938.2,1507.3 1925,1514.6"/><polyline points="1925,1514.6 1930.4,1517.7 1943.6,1510.3" fill="none"/><line x1="1930.4" y1="1540.9" x2="1930.4" y2="1517.7"/></g>
<g stroke="#222" stroke-width="0.9" stroke-linejoin="round" fill="#fff"><polygon points="1916.6,1542.4 1922.5,1545.7 1930.4,1541.2 1930.4,1518.5 1924.5,1515.2 1916.6,1519.6"/><polyline points="1916.6,1519.6 1922.5,1522.9 1930.4,1518.5" fill="none"/><line x1="1922.5" y1="1545.7" x2="1922.5" y2="1522.9"/></g>
<g stroke="#222" stroke-width="0.9" stroke-linejoin="round" fill="#fff"><polygon points="1902.2,1549.3 1909.3,1553.3 1916.9,1549 1916.9,1526.2 1909.8,1522.3 1902.2,1526.5"/><polyline points="1902.2,1526.5 1909.3,1530.5 1916.9,1526.2" fill="none"/><line x1="1909.3" y1="1553.3" x2="1909.3" y2="1530.5"/></g>
<g stroke="#222" stroke-width="0.9" stroke-linejoin="round" fill="#fff"><polygon points="1968.4,1586.8 1979.3,1592.9 1986.6,1588.8 1986.6,1568.6 1975.6,1562.5 1968.4,1566.5"/><polyline points="1968.4,1566.5 1979.3,1572.7 1986.6,1568.6" fill="none"/><line x1="1979.3" y1="1592.9" x2="1979.3" y2="1572.7"/><polyline points="1975.1,1590.5 1975.1,1570.3 1982.4,1566.2" fill="none" stroke-width="0.7200000000000001"/><polyline points="1972.9,1589.3 1972.9,1569.1 1980.2,1565" fill="none" stroke-width="0.7200000000000001"/></g>
<g stroke="#222" stroke-width="0.9" stroke-linejoin="round" fill="#fff"><polygon points="1995.4,1572 2008.5,1579.4 2014.8,1575.9 2014.8,1555.2 2001.6,1547.8 1995.4,1551.3"/><polyline points="1995.4,1551.3 2008.5,1558.7 2014.8,1555.2" fill="none"/><line x1="2008.5" y1="1579.4" x2="2008.5" y2="1558.7"/></g>
<polygon points="1785.3,1444.7 1823.3,1424 1823.3,1401.2 1830.9,1397 1845.2,1404.9 1845.2,1424.8 1847.7,1426.2 1800.5,1453.5" fill="#fff" stroke="none" stroke-width="3.6" stroke-linejoin="miter" stroke-miterlimit="2" />
<polygon points="1788.7,1444.7 1825,1424.5 1835.9,1430.2 1800.5,1450.5" fill="#ffffcb" stroke="none" stroke-width="3.6" stroke-linejoin="miter" stroke-miterlimit="2" />
<polygon points="1785.3,1444.7 1823.3,1424 1823.3,1401.2 1830.9,1397 1845.2,1404.9 1845.2,1424.8 1847.7,1426.2 1800.5,1453.5" fill="none" stroke="#000" stroke-width="3.6" stroke-linejoin="miter" stroke-miterlimit="2" />
<g stroke="#222" stroke-width="0.9" stroke-linejoin="round" fill="#fff"><polygon points="1825,1423.2 1837.6,1430.2 1843.9,1426.7 1843.9,1404.8 1831.2,1397.7 1825,1401.2"/><polyline points="1825,1401.2 1837.6,1408.3 1843.9,1404.8" fill="none"/><line x1="1837.6" y1="1430.2" x2="1837.6" y2="1408.3"/></g>
<polygon points="1819.9,1459.4 1860.1,1435 1870.5,1440.9 1932.9,1405.4 1938,1409.7 1938,1435 1962.5,1449.3 1959.9,1452.7 1947.8,1459.9 1948.6,1461.3 1947.1,1462.1 1946.3,1460.8 1929.4,1470.8 1928.7,1469.7 1927.3,1470.6 1927.9,1471.7 1911,1481.7 1911.8,1483.1 1910.3,1484 1909.5,1482.6 1892.6,1492.7 1891.9,1491.6 1890.4,1492.4 1891.1,1493.5 1878.9,1500.8 1844.4,1480.5 1844.4,1483 1831.4,1488.9 1823.3,1484.7 1823.3,1462" fill="#a9b4a2" stroke="none" stroke-width="3.6" stroke-linejoin="miter" stroke-miterlimit="2" />
<polyline points="1987.8,1435.8 1962.5,1449.3 1959.9,1452.7 1947.8,1459.9 1948.6,1461.3 1947.1,1462.1 1946.3,1460.8 1929.4,1470.8 1928.7,1469.7 1927.3,1470.6 1927.9,1471.7 1911,1481.7 1911.8,1483.1 1910.3,1484 1909.5,1482.6 1892.6,1492.7 1891.9,1491.6 1890.4,1492.4 1891.1,1493.5 1878.9,1500.8 1844.4,1480.5 1844.4,1483 1831.4,1488.9 1823.3,1484.7 1823.3,1462 1819.9,1459.4 1860.1,1435 1870.5,1440.9 1934.6,1404.6" fill="none" stroke="#000" stroke-width="3.6" stroke-linejoin="miter" stroke-miterlimit="2" />
<polyline points="1938,1435 1962.5,1449.3" fill="none" stroke="#222" stroke-width="0.8" stroke-linejoin="miter" stroke-miterlimit="2" />
<polygon points="1883.2,1372.9 1901.7,1362.8 1901.7,1339.5 1910.2,1335.5 1914.4,1337.8 1914.4,1332.4 1936.3,1320.6 1944.7,1325.3 1944.7,1346.8 1989.4,1372.6 1995.4,1370.9 1995.4,1362.5 2002.1,1358.6 2016.4,1366.5 2016.4,1385.6 2065.9,1413.4 2007.2,1447.1 1982.7,1432.8 1936.3,1403.3" fill="#5e4669" stroke="none" stroke-width="3.6" stroke-linejoin="miter" stroke-miterlimit="2" />
<polyline points="1936.3,1403.3 1883.2,1372.9 1901.7,1362.8 1901.7,1339.5 1910.2,1335.5 1914.4,1337.8 1914.4,1332.4 1936.3,1320.6 1944.7,1325.3 1944.7,1346.8 1989.4,1372.6 1995.4,1370.9 1995.4,1362.5 2002.1,1358.6 2016.4,1366.5 2016.4,1385.6 2065.9,1413.4 2007.2,1447.1 1982.7,1432.8" fill="none" stroke="#000" stroke-width="3.6" stroke-linejoin="miter" stroke-miterlimit="2" />
<polygon points="1861.2,1461.1 1874.7,1453.5 1880.6,1456 1880.6,1476.3 1867.1,1484.7 1861.2,1482.2" fill="none" stroke="#333" stroke-width="0.8" stroke-linejoin="miter" stroke-miterlimit="2" stroke-dasharray="2.5 2.5"/>
<g stroke="#222" stroke-width="0.9" stroke-linejoin="round" fill="#fff"><polygon points="1900.9,1446.7 1908.5,1451 1938,1434.5 1938,1413.4 1930.4,1409.1 1900.9,1425.6"/><polyline points="1900.9,1425.6 1908.5,1429.9 1938,1413.4" fill="none"/><line x1="1908.5" y1="1451" x2="1908.5" y2="1429.9"/><polyline points="1924.5,1442 1924.5,1420.9 1916.9,1416.7" fill="none" stroke-width="0.7200000000000001"/></g>
<g stroke="#222" stroke-width="0.9" stroke-linejoin="round" fill="#fff"><polygon points="1843.9,1472.2 1851.1,1476.3 1865.1,1468.5 1865.1,1447.4 1857.9,1443.3 1843.9,1451.1"/><polyline points="1843.9,1451.1 1851.1,1455.2 1865.1,1447.4" fill="none"/><line x1="1851.1" y1="1476.3" x2="1851.1" y2="1455.2"/></g>
<g stroke="#222" stroke-width="0.9" stroke-linejoin="round" fill="#fff"><polygon points="1824.1,1481.5 1831.4,1485.6 1844.9,1478 1844.9,1457.8 1837.6,1453.7 1824.1,1461.3"/><polyline points="1824.1,1461.3 1831.4,1465.3 1844.9,1457.8" fill="none"/><line x1="1831.4" y1="1485.6" x2="1831.4" y2="1465.3"/></g>
<g stroke="#222" stroke-width="0.9" stroke-linejoin="round" fill="#fff"><polygon points="1925,1351.3 1930.4,1354.4 1943.6,1347 1943.6,1323.7 1938.2,1320.7 1925,1328.1"/><polyline points="1925,1328.1 1930.4,1331.1 1943.6,1323.7" fill="none"/><line x1="1930.4" y1="1354.4" x2="1930.4" y2="1331.1"/></g>
<g stroke="#222" stroke-width="0.9" stroke-linejoin="round" fill="#fff"><polygon points="1916.6,1355.3 1922.5,1358.6 1930.4,1354.1 1930.4,1331.4 1924.5,1328.1 1916.6,1332.5"/><polyline points="1916.6,1332.5 1922.5,1335.8 1930.4,1331.4" fill="none"/><line x1="1922.5" y1="1358.6" x2="1922.5" y2="1335.8"/></g>
<g stroke="#222" stroke-width="0.9" stroke-linejoin="round" fill="#fff"><polygon points="1903.9,1363.1 1909.3,1366.2 1916.9,1361.9 1916.9,1339.1 1911.5,1336.1 1903.9,1340.4"/><polyline points="1903.9,1340.4 1909.3,1343.4 1916.9,1339.1" fill="none"/><line x1="1909.3" y1="1366.2" x2="1909.3" y2="1343.4"/></g>
<g stroke="#222" stroke-width="0.9" stroke-linejoin="round" fill="#fff"><polygon points="1968.4,1400.2 1979.3,1406.3 1986.6,1402.3 1986.6,1382 1975.6,1375.9 1968.4,1379.9"/><polyline points="1968.4,1379.9 1979.3,1386.1 1986.6,1382" fill="none"/><line x1="1979.3" y1="1406.3" x2="1979.3" y2="1386.1"/><polyline points="1975.1,1404 1975.1,1383.7 1982.4,1379.6" fill="none" stroke-width="0.7200000000000001"/><polyline points="1972.9,1402.7 1972.9,1382.5 1980.2,1378.4" fill="none" stroke-width="0.7200000000000001"/></g>
<g stroke="#222" stroke-width="0.9" stroke-linejoin="round" fill="#fff"><polygon points="1995.4,1384.9 2008.5,1392.3 2014.8,1388.8 2014.8,1368.1 2001.6,1360.7 1995.4,1364.2"/><polyline points="1995.4,1364.2 2008.5,1371.6 2014.8,1368.1" fill="none"/><line x1="2008.5" y1="1392.3" x2="2008.5" y2="1371.6"/></g>
<polygon points="1776,1247.7 1818.2,1223.6 1823.3,1226.3 1823.3,1213.2 1830.9,1209.4 1845.2,1217.4 1845.2,1237.6 1870.5,1253.6 1936.3,1216.5 1938,1247.7 1959.1,1258.7 1968.4,1264.6 1956.3,1271.3 1957,1272.7 1954.9,1273.9 1954.1,1272.5 1937.4,1281.8 1936.8,1280.7 1934.6,1281.9 1935.2,1283 1918.6,1292.3 1919.3,1293.7 1917.2,1294.9 1916.4,1293.5 1899.7,1302.7 1899.1,1301.6 1896.9,1302.8 1897.5,1303.9 1880.9,1313.2 1881.6,1314.6 1879.5,1315.8 1878.7,1314.4 1862,1323.7 1861.4,1322.5 1859.2,1323.7 1859.8,1324.9 1847.7,1331.6 1827.5,1320.3 1825,1322 1788.7,1300.5 1823.3,1280.6 1823.3,1275.6 1803.9,1263.8 1800.5,1266.3 1784.5,1257.4 1790.4,1254.5 1787,1252" fill="#a9b4a2" stroke="none" stroke-width="3.6" stroke-linejoin="miter" stroke-miterlimit="2" />
<polygon points="1936.3,1216.5 1982.7,1246.1 1959.1,1258.7 1938,1247.7 1938,1225.8" fill="#fff" stroke="none" stroke-width="3.6" stroke-linejoin="miter" stroke-miterlimit="2" />
<polyline points="1982.7,1246.1 1959.1,1258.7 1968.4,1264.6 1956.3,1271.3 1957,1272.7 1954.9,1273.9 1954.1,1272.5 1937.4,1281.8 1936.8,1280.7 1934.6,1281.9 1935.2,1283 1918.6,1292.3 1919.3,1293.7 1917.2,1294.9 1916.4,1293.5 1899.7,1302.7 1899.1,1301.6 1896.9,1302.8 1897.5,1303.9 1880.9,1313.2 1881.6,1314.6 1879.5,1315.8 1878.7,1314.4 1862,1323.7 1861.4,1322.5 1859.2,1323.7 1859.8,1324.9 1847.7,1331.6 1827.5,1320.3 1825,1322 1788.7,1300.5 1823.3,1280.6 1823.3,1275.6 1803.9,1263.8 1800.5,1266.3 1784.5,1257.4 1790.4,1254.5 1787,1252 1776,1247.7 1818.2,1223.6 1823.3,1226.3 1823.3,1213.2 1830.9,1209.4 1845.2,1217.4 1845.2,1237.6 1870.5,1253.6 1936.3,1216.5" fill="none" stroke="#000" stroke-width="3.6" stroke-linejoin="miter" stroke-miterlimit="2" />
<polyline points="1938,1247.7 1959.1,1258.7" fill="none" stroke="#222" stroke-width="0.8" stroke-linejoin="miter" stroke-miterlimit="2" />
<polygon points="1883.2,1186.2 1901.7,1176 1901.7,1152.8 1910.2,1148.7 1914.4,1151.1 1914.4,1145.7 1936.3,1133.9 1944.7,1138.6 1944.7,1160 1989.4,1185.8 1995.4,1184.1 1995.4,1175.7 2002.1,1171.8 2016.4,1179.8 2016.4,1198.8 2065.9,1226.7 2007.2,1260.4 1982.7,1246.1 1936.3,1216.5" fill="#5e4669" stroke="none" stroke-width="3.6" stroke-linejoin="miter" stroke-miterlimit="2" />
<polyline points="1936.3,1216.5 1883.2,1186.2 1901.7,1176 1901.7,1152.8 1910.2,1148.7 1914.4,1151.1 1914.4,1145.7 1936.3,1133.9 1944.7,1138.6 1944.7,1160 1989.4,1185.8 1995.4,1184.1 1995.4,1175.7 2002.1,1171.8 2016.4,1179.8 2016.4,1198.8 2065.9,1226.7 2007.2,1260.4 1982.7,1246.1" fill="none" stroke="#000" stroke-width="3.6" stroke-linejoin="miter" stroke-miterlimit="2" />
<g stroke="#222" stroke-width="0.9" stroke-linejoin="round" fill="#fff"><polygon points="1824.1,1236.3 1837.6,1243.9 1844,1240.3 1844,1219.2 1830.5,1211.6 1824.1,1215.2"/><polyline points="1824.1,1215.2 1837.6,1222.8 1844,1219.2" fill="none"/><line x1="1837.6" y1="1243.9" x2="1837.6" y2="1222.8"/></g>
<g stroke="#222" stroke-width="0.9" stroke-linejoin="round" fill="#fff"><polygon points="1900.9,1259.5 1908.5,1263.8 1938,1247.2 1938,1226.1 1930.4,1221.9 1900.9,1238.4"/><polyline points="1900.9,1238.4 1908.5,1242.7 1938,1226.1" fill="none"/><line x1="1908.5" y1="1263.8" x2="1908.5" y2="1242.7"/><polyline points="1924.5,1254.8 1924.5,1233.7 1916.9,1229.5" fill="none" stroke-width="0.7200000000000001"/></g>
<g stroke="#222" stroke-width="0.9" stroke-linejoin="round" fill="#fff"><polygon points="1843.9,1285.9 1851.1,1289.9 1865.1,1282.1 1865.1,1261 1857.9,1256.9 1843.9,1264.8"/><polyline points="1843.9,1264.8 1851.1,1268.8 1865.1,1261" fill="none"/><line x1="1851.1" y1="1289.9" x2="1851.1" y2="1268.8"/></g>
<g stroke="#222" stroke-width="0.9" stroke-linejoin="round" fill="#fff"><polygon points="1824.1,1296.8 1831.4,1300.9 1844.9,1293.3 1844.9,1273.1 1837.6,1269 1824.1,1276.6"/><polyline points="1824.1,1276.6 1831.4,1280.6 1844.9,1273.1" fill="none"/><line x1="1831.4" y1="1300.9" x2="1831.4" y2="1280.6"/></g>
<g stroke="#222" stroke-width="0.9" stroke-linejoin="round" fill="#fff"><polygon points="1925,1164.6 1930.4,1167.6 1943.6,1160.2 1943.6,1137 1938.2,1133.9 1925,1141.3"/><polyline points="1925,1141.3 1930.4,1144.3 1943.6,1137" fill="none"/><line x1="1930.4" y1="1167.6" x2="1930.4" y2="1144.3"/></g>
<g stroke="#222" stroke-width="0.9" stroke-linejoin="round" fill="#fff"><polygon points="1916.6,1168.5 1922.5,1171.8 1930.4,1167.4 1930.4,1144.6 1924.5,1141.3 1916.6,1145.7"/><polyline points="1916.6,1145.7 1922.5,1149 1930.4,1144.6" fill="none"/><line x1="1922.5" y1="1171.8" x2="1922.5" y2="1149"/></g>
<g stroke="#222" stroke-width="0.9" stroke-linejoin="round" fill="#fff"><polygon points="1903.9,1176.4 1909.3,1179.4 1916.9,1175.2 1916.9,1152.4 1911.5,1149.4 1903.9,1153.6"/><polyline points="1903.9,1153.6 1909.3,1156.6 1916.9,1152.4" fill="none"/><line x1="1909.3" y1="1179.4" x2="1909.3" y2="1156.6"/></g>
<g stroke="#222" stroke-width="0.9" stroke-linejoin="round" fill="#fff"><polygon points="1968.4,1213.4 1979.3,1219.6 1986.6,1215.5 1986.6,1195.3 1975.6,1189.1 1968.4,1193.2"/><polyline points="1968.4,1193.2 1979.3,1199.3 1986.6,1195.3" fill="none"/><line x1="1979.3" y1="1219.6" x2="1979.3" y2="1199.3"/><polyline points="1975.1,1217.2 1975.1,1197 1982.4,1192.9" fill="none" stroke-width="0.7200000000000001"/><polyline points="1972.9,1216 1972.9,1195.7 1980.2,1191.7" fill="none" stroke-width="0.7200000000000001"/></g>
<g stroke="#222" stroke-width="0.9" stroke-linejoin="round" fill="#fff"><polygon points="1995.4,1198.2 2008.5,1205.6 2014.8,1202.1 2014.8,1181.3 2001.6,1174 1995.4,1177.4"/><polyline points="1995.4,1177.4 2008.5,1184.8 2014.8,1181.3" fill="none"/><line x1="2008.5" y1="1205.6" x2="2008.5" y2="1184.8"/></g>
<polygon points="1776,1061 1818.2,1036.9 1823.3,1039.6 1823.3,1026.4 1830.9,1022.7 1845.2,1030.6 1845.2,1050.9 1870.5,1066.9 1936.3,1029.8 1938,1061 1959.1,1072 1968.4,1077.9 1956.3,1084.6 1957,1086 1954.9,1087.2 1954.1,1085.8 1937.4,1095 1936.8,1093.9 1934.6,1095.1 1935.2,1096.3 1918.6,1105.5 1919.3,1106.9 1917.2,1108.1 1916.4,1106.7 1899.7,1116 1899.1,1114.9 1896.9,1116.1 1897.5,1117.2 1880.9,1126.4 1881.6,1127.8 1879.5,1129 1878.7,1127.6 1862,1136.9 1861.4,1135.8 1859.2,1137 1859.8,1138.1 1847.7,1144.8 1827.5,1133.5 1825,1135.2 1788.7,1113.8 1823.3,1093.9 1823.3,1088.8 1803.9,1077 1800.5,1079.5 1784.5,1070.6 1790.4,1067.7 1787,1065.2" fill="#a9b4a2" stroke="none" stroke-width="3.6" stroke-linejoin="miter" stroke-miterlimit="2" />
<polygon points="1936.3,1029.8 1982.7,1059.3 1959.1,1072 1938,1061 1938,1039.1" fill="#fff" stroke="none" stroke-width="3.6" stroke-linejoin="miter" stroke-miterlimit="2" />
<polyline points="1982.7,1059.3 1959.1,1072 1968.4,1077.9 1956.3,1084.6 1957,1086 1954.9,1087.2 1954.1,1085.8 1937.4,1095 1936.8,1093.9 1934.6,1095.1 1935.2,1096.3 1918.6,1105.5 1919.3,1106.9 1917.2,1108.1 1916.4,1106.7 1899.7,1116 1899.1,1114.9 1896.9,1116.1 1897.5,1117.2 1880.9,1126.4 1881.6,1127.8 1879.5,1129 1878.7,1127.6 1862,1136.9 1861.4,1135.8 1859.2,1137 1859.8,1138.1 1847.7,1144.8 1827.5,1133.5 1825,1135.2 1788.7,1113.8 1823.3,1093.9 1823.3,1088.8 1803.9,1077 1800.5,1079.5 1784.5,1070.6 1790.4,1067.7 1787,1065.2 1776,1061 1818.2,1036.9 1823.3,1039.6 1823.3,1026.4 1830.9,1022.7 1845.2,1030.6 1845.2,1050.9 1870.5,1066.9 1936.3,1029.8" fill="none" stroke="#000" stroke-width="3.6" stroke-linejoin="miter" stroke-miterlimit="2" />
<polyline points="1938,1061 1959.1,1072" fill="none" stroke="#222" stroke-width="0.8" stroke-linejoin="miter" stroke-miterlimit="2" />
<polygon points="1883.2,999.4 1901.7,989.3 1901.7,966 1910.2,962 1914.4,964.3 1914.4,958.9 1936.3,947.1 1944.7,951.8 1944.7,973.3 1989.4,999.1 1995.4,997.4 1995.4,989 2002.1,985.1 2016.4,993 2016.4,1012.1 2065.9,1039.9 2007.2,1073.6 1982.7,1059.3 1936.3,1029.8" fill="#10589f" stroke="none" stroke-width="3.6" stroke-linejoin="miter" stroke-miterlimit="2" />
<polyline points="1936.3,1029.8 1883.2,999.4 1901.7,989.3 1901.7,966 1910.2,962 1914.4,964.3 1914.4,958.9 1936.3,947.1 1944.7,951.8 1944.7,973.3 1989.4,999.1 1995.4,997.4 1995.4,989 2002.1,985.1 2016.4,993 2016.4,1012.1 2065.9,1039.9 2007.2,1073.6 1982.7,1059.3" fill="none" stroke="#000" stroke-width="3.6" stroke-linejoin="miter" stroke-miterlimit="2" />
<g stroke="#222" stroke-width="0.9" stroke-linejoin="round" fill="#fff"><polygon points="1846.9,1050.7 1854.5,1055 1867.1,1047.9 1867.1,1025.9 1859.5,1021.7 1846.9,1028.8"/><polyline points="1846.9,1028.8 1854.5,1033 1867.1,1025.9" fill="none"/><line x1="1854.5" y1="1055" x2="1854.5" y2="1033"/></g>
<g stroke="#222" stroke-width="0.9" stroke-linejoin="round" fill="#fff"><polygon points="1878.6,1048.9 1884,1051.9 1891.6,1047.7 1891.6,1026.6 1886.2,1023.6 1878.6,1027.8"/><polyline points="1878.6,1027.8 1884,1030.8 1891.6,1026.6" fill="none"/><line x1="1884" y1="1051.9" x2="1884" y2="1030.8"/></g>
<g stroke="#222" stroke-width="0.9" stroke-linejoin="round" fill="#fff"><polygon points="1884.5,1052.1 1889.6,1055 1898.3,1050 1898.3,1029 1893.3,1026.1 1884.5,1031"/><polyline points="1884.5,1031 1889.6,1033.9 1898.3,1029" fill="none"/><line x1="1889.6" y1="1055" x2="1889.6" y2="1033.9"/></g>
<polygon points="1893.3,974.8 1900.9,971.5 1900.9,987.5 1893.3,991.7" fill="#fff" stroke="#222" stroke-width="0.9" stroke-linejoin="miter" stroke-miterlimit="2" />
<polyline points="1893.3,974.8 1900.9,980.7" fill="none" stroke="#222" stroke-width="0.8" stroke-linejoin="miter" stroke-miterlimit="2" />
<g stroke="#222" stroke-width="0.9" stroke-linejoin="round" fill="#fff"><polygon points="1824.1,1049.6 1837.6,1057.1 1844,1053.5 1844,1032.4 1830.5,1024.9 1824.1,1028.5"/><polyline points="1824.1,1028.5 1837.6,1036 1844,1032.4" fill="none"/><line x1="1837.6" y1="1057.1" x2="1837.6" y2="1036"/></g>
<g stroke="#222" stroke-width="0.9" stroke-linejoin="round" fill="#fff"><polygon points="1900.9,1072.8 1908.5,1077 1938,1060.5 1938,1039.4 1930.4,1035.1 1900.9,1051.7"/><polyline points="1900.9,1051.7 1908.5,1055.9 1938,1039.4" fill="none"/><line x1="1908.5" y1="1077" x2="1908.5" y2="1055.9"/><polyline points="1924.5,1068 1924.5,1047 1916.9,1042.7" fill="none" stroke-width="0.7200000000000001"/></g>
<g stroke="#222" stroke-width="0.9" stroke-linejoin="round" fill="#fff"><polygon points="1843.9,1099.1 1851.1,1103.2 1865.1,1095.3 1865.1,1074.2 1857.9,1070.2 1843.9,1078"/><polyline points="1843.9,1078 1851.1,1082.1 1865.1,1074.2" fill="none"/><line x1="1851.1" y1="1103.2" x2="1851.1" y2="1082.1"/></g>
<g stroke="#222" stroke-width="0.9" stroke-linejoin="round" fill="#fff"><polygon points="1824.1,1110.1 1831.4,1114.1 1844.9,1106.6 1844.9,1086.3 1837.6,1082.3 1824.1,1089.8"/><polyline points="1824.1,1089.8 1831.4,1093.9 1844.9,1086.3" fill="none"/><line x1="1831.4" y1="1114.1" x2="1831.4" y2="1093.9"/></g>
<g stroke="#222" stroke-width="0.9" stroke-linejoin="round" fill="#fff"><polygon points="1925,977.8 1930.4,980.9 1943.6,973.5 1943.6,950.2 1938.2,947.2 1925,954.6"/><polyline points="1925,954.6 1930.4,957.6 1943.6,950.2" fill="none"/><line x1="1930.4" y1="980.9" x2="1930.4" y2="957.6"/></g>
<g stroke="#222" stroke-width="0.9" stroke-linejoin="round" fill="#fff"><polygon points="1916.6,981.8 1922.5,985.1 1930.4,980.6 1930.4,957.9 1924.5,954.6 1916.6,959"/><polyline points="1916.6,959 1922.5,962.3 1930.4,957.9" fill="none"/><line x1="1922.5" y1="985.1" x2="1922.5" y2="962.3"/></g>
<g stroke="#222" stroke-width="0.9" stroke-linejoin="round" fill="#fff"><polygon points="1903.9,989.6 1909.3,992.7 1916.9,988.4 1916.9,965.6 1911.5,962.6 1903.9,966.9"/><polyline points="1903.9,966.9 1909.3,969.9 1916.9,965.6" fill="none"/><line x1="1909.3" y1="992.7" x2="1909.3" y2="969.9"/></g>
<g stroke="#222" stroke-width="0.9" stroke-linejoin="round" fill="#fff"><polygon points="1968.4,1026.7 1979.3,1032.8 1986.6,1028.8 1986.6,1008.5 1975.6,1002.4 1968.4,1006.4"/><polyline points="1968.4,1006.4 1979.3,1012.6 1986.6,1008.5" fill="none"/><line x1="1979.3" y1="1032.8" x2="1979.3" y2="1012.6"/><polyline points="1975.1,1030.5 1975.1,1010.2 1982.4,1006.1" fill="none" stroke-width="0.7200000000000001"/><polyline points="1972.9,1029.2 1972.9,1009 1980.2,1004.9" fill="none" stroke-width="0.7200000000000001"/></g>
<g stroke="#222" stroke-width="0.9" stroke-linejoin="round" fill="#fff"><polygon points="1995.4,1011.4 2008.5,1018.8 2014.8,1015.3 2014.8,994.6 2001.6,987.2 1995.4,990.7"/><polyline points="1995.4,990.7 2008.5,998.1 2014.8,994.6" fill="none"/><line x1="2008.5" y1="1018.8" x2="2008.5" y2="998.1"/></g>
<polygon points="1776,874.2 1818.2,850.1 1823.3,852.8 1823.3,839.7 1830.9,835.9 1845.2,843.9 1845.2,864.1 1870.5,880.1 1936.3,843 1938,874.2 1959.1,885.2 1968.4,891.1 1956.3,897.8 1957,899.2 1954.9,900.4 1954.1,899 1937.4,908.3 1936.8,907.2 1934.6,908.4 1935.2,909.5 1918.6,918.8 1919.3,920.2 1917.2,921.4 1916.4,920 1899.7,929.2 1899.1,928.1 1896.9,929.3 1897.5,930.4 1880.9,939.7 1881.6,941.1 1879.5,942.3 1878.7,940.9 1862,950.2 1861.4,949 1859.2,950.2 1859.8,951.4 1847.7,958.1 1827.5,946.8 1825,948.5 1788.7,927 1823.3,907.1 1823.3,902.1 1803.9,890.3 1800.5,892.8 1784.5,883.9 1790.4,881 1787,878.5" fill="#a9b4a2" stroke="none" stroke-width="3.6" stroke-linejoin="miter" stroke-miterlimit="2" />
<polygon points="1936.3,843 1982.7,872.6 1959.1,885.2 1938,874.2 1938,852.3" fill="#fff" stroke="none" stroke-width="3.6" stroke-linejoin="miter" stroke-miterlimit="2" />
<polyline points="1982.7,872.6 1959.1,885.2 1968.4,891.1 1956.3,897.8 1957,899.2 1954.9,900.4 1954.1,899 1937.4,908.3 1936.8,907.2 1934.6,908.4 1935.2,909.5 1918.6,918.8 1919.3,920.2 1917.2,921.4 1916.4,920 1899.7,929.2 1899.1,928.1 1896.9,929.3 1897.5,930.4 1880.9,939.7 1881.6,941.1 1879.5,942.3 1878.7,940.9 1862,950.2 1861.4,949 1859.2,950.2 1859.8,951.4 1847.7,958.1 1827.5,946.8 1825,948.5 1788.7,927 1823.3,907.1 1823.3,902.1 1803.9,890.3 1800.5,892.8 1784.5,883.9 1790.4,881 1787,878.5 1776,874.2 1818.2,850.1 1823.3,852.8 1823.3,839.7 1830.9,835.9 1845.2,843.9 1845.2,864.1 1870.5,880.1 1936.3,843" fill="none" stroke="#000" stroke-width="3.6" stroke-linejoin="miter" stroke-miterlimit="2" />
<polyline points="1938,874.2 1959.1,885.2" fill="none" stroke="#222" stroke-width="0.8" stroke-linejoin="miter" stroke-miterlimit="2" />
<polygon points="1883.2,812.7 1901.7,802.5 1901.7,779.3 1910.2,775.2 1914.4,777.6 1914.4,772.2 1936.3,760.4 1944.7,765.1 1944.7,786.5 1989.4,812.3 1995.4,810.6 1995.4,802.2 2002.1,798.3 2016.4,806.3 2016.4,825.3 2065.9,853.2 2007.2,886.9 1982.7,872.6 1936.3,843" fill="#10589f" stroke="none" stroke-width="3.6" stroke-linejoin="miter" stroke-miterlimit="2" />
<polyline points="1936.3,843 1883.2,812.7 1901.7,802.5 1901.7,779.3 1910.2,775.2 1914.4,777.6 1914.4,772.2 1936.3,760.4 1944.7,765.1 1944.7,786.5 1989.4,812.3 1995.4,810.6 1995.4,802.2 2002.1,798.3 2016.4,806.3 2016.4,825.3 2065.9,853.2 2007.2,886.9 1982.7,872.6" fill="none" stroke="#000" stroke-width="3.6" stroke-linejoin="miter" stroke-miterlimit="2" />
<g stroke="#222" stroke-width="0.9" stroke-linejoin="round" fill="#fff"><polygon points="1824.1,862.8 1837.6,870.4 1844,866.8 1844,845.7 1830.5,838.1 1824.1,841.7"/><polyline points="1824.1,841.7 1837.6,849.3 1844,845.7" fill="none"/><line x1="1837.6" y1="870.4" x2="1837.6" y2="849.3"/></g>
<g stroke="#222" stroke-width="0.9" stroke-linejoin="round" fill="#fff"><polygon points="1900.9,886 1908.5,890.3 1938,873.7 1938,852.6 1930.4,848.4 1900.9,864.9"/><polyline points="1900.9,864.9 1908.5,869.2 1938,852.6" fill="none"/><line x1="1908.5" y1="890.3" x2="1908.5" y2="869.2"/><polyline points="1924.5,881.3 1924.5,860.2 1916.9,856" fill="none" stroke-width="0.7200000000000001"/></g>
<g stroke="#222" stroke-width="0.9" stroke-linejoin="round" fill="#fff"><polygon points="1843.9,912.4 1851.1,916.4 1865.1,908.6 1865.1,887.5 1857.9,883.4 1843.9,891.3"/><polyline points="1843.9,891.3 1851.1,895.3 1865.1,887.5" fill="none"/><line x1="1851.1" y1="916.4" x2="1851.1" y2="895.3"/></g>
<g stroke="#222" stroke-width="0.9" stroke-linejoin="round" fill="#fff"><polygon points="1824.1,923.3 1831.4,927.4 1844.9,919.8 1844.9,899.6 1837.6,895.5 1824.1,903.1"/><polyline points="1824.1,903.1 1831.4,907.1 1844.9,899.6" fill="none"/><line x1="1831.4" y1="927.4" x2="1831.4" y2="907.1"/></g>
<g stroke="#222" stroke-width="0.9" stroke-linejoin="round" fill="#fff"><polygon points="1925,791.1 1930.4,794.1 1943.6,786.7 1943.6,763.5 1938.2,760.4 1925,767.8"/><polyline points="1925,767.8 1930.4,770.8 1943.6,763.5" fill="none"/><line x1="1930.4" y1="794.1" x2="1930.4" y2="770.8"/></g>
<g stroke="#222" stroke-width="0.9" stroke-linejoin="round" fill="#fff"><polygon points="1916.6,795 1922.5,798.3 1930.4,793.9 1930.4,771.1 1924.5,767.8 1916.6,772.2"/><polyline points="1916.6,772.2 1922.5,775.5 1930.4,771.1" fill="none"/><line x1="1922.5" y1="798.3" x2="1922.5" y2="775.5"/></g>
<g stroke="#222" stroke-width="0.9" stroke-linejoin="round" fill="#fff"><polygon points="1903.9,802.9 1909.3,805.9 1916.9,801.7 1916.9,778.9 1911.5,775.9 1903.9,780.1"/><polyline points="1903.9,780.1 1909.3,783.1 1916.9,778.9" fill="none"/><line x1="1909.3" y1="805.9" x2="1909.3" y2="783.1"/></g>
<g stroke="#222" stroke-width="0.9" stroke-linejoin="round" fill="#fff"><polygon points="1968.4,839.9 1979.3,846.1 1986.6,842 1986.6,821.8 1975.6,815.6 1968.4,819.7"/><polyline points="1968.4,819.7 1979.3,825.8 1986.6,821.8" fill="none"/><line x1="1979.3" y1="846.1" x2="1979.3" y2="825.8"/><polyline points="1975.1,843.7 1975.1,823.5 1982.4,819.4" fill="none" stroke-width="0.7200000000000001"/><polyline points="1972.9,842.5 1972.9,822.2 1980.2,818.2" fill="none" stroke-width="0.7200000000000001"/></g>
<g stroke="#222" stroke-width="0.9" stroke-linejoin="round" fill="#fff"><polygon points="1995.4,824.7 2008.5,832.1 2014.8,828.6 2014.8,807.8 2001.6,800.5 1995.4,803.9"/><polyline points="1995.4,803.9 2008.5,811.3 2014.8,807.8" fill="none"/><line x1="2008.5" y1="832.1" x2="2008.5" y2="811.3"/></g>
<polygon points="1734,634.8 1836.8,576.9 1847.7,570.1 1858.7,563.4 1867.1,558.3 1875.6,554.3 1884,550.9 1893.3,548.2 1893.3,525.9 1908.5,521.2 1918.6,531.8 1918.6,539.8 1957.4,577.9 1944.7,581.6 1943.9,599.3 1989.4,623.6 1995.4,625.3 1995.4,614.3 2002.1,611 2016.4,618.5 2016.4,637.9 2066.2,665.8 2008,699.5 1994.5,691.9 1982.1,699 1982.9,700.3 1980.3,701.8 1979.5,700.4 1962.5,710 1961.9,708.9 1959.2,710.4 1959.9,711.5 1942.9,721.1 1943.7,722.5 1941.1,724 1940.3,722.6 1923.3,732.2 1922.6,731.1 1920,732.6 1920.7,733.7 1903.7,743.3 1904.5,744.7 1901.8,746.1 1901.1,744.7 1884.1,754.4 1883.4,753.2 1880.8,754.7 1881.4,755.8 1864.5,765.4 1865.2,766.8 1862.6,768.3 1861.8,766.9 1849.4,773.9 1788.7,739.3 1823.7,719 1813.2,713.3 1810.6,714.6 1800.2,707.2 1795.8,706.4 1795.8,703.3 1788,698.5 1785.8,699.8 1769.7,690.8 1775.8,685.4 1784.1,683.3 1784.5,680.7 1788.7,678.3 1779.7,673.7 1772.3,676.7 1764,681 1758.8,684.5 1741.4,690.2 1697.8,646.6" fill="#fff" stroke="none" stroke-width="3.6" stroke-linejoin="miter" stroke-miterlimit="2" />
<polygon points="1710.5,648.3 1836.8,576.9 1847.7,570.1 1858.7,563.4 1867.1,558.3 1875.6,554.3 1884,550.9 1893.3,548.2 1893.3,525.9 1908.5,521.2 1918.6,531.8 1918.6,539.8 1957.4,577.9 1944.7,581.6 1943.9,599.3 1989.4,623.6 1995.4,625.3 1995.4,614.3 2002.1,611 2016.4,618.5 2016.4,637.9 2066.2,665.8 2008,699.5 1994.5,691.9 1982.1,699 1982.9,700.3 1980.3,701.8 1979.5,700.4 1962.5,710 1961.9,708.9 1959.2,710.4 1959.9,711.5 1942.9,721.1 1943.7,722.5 1941.1,724 1940.3,722.6 1923.3,732.2 1922.6,731.1 1920,732.6 1920.7,733.7 1903.7,743.3 1904.5,744.7 1901.8,746.1 1901.1,744.7 1884.1,754.4 1883.4,753.2 1880.8,754.7 1881.4,755.8 1864.5,765.4 1865.2,766.8 1862.6,768.3 1861.8,766.9 1849.4,773.9 1788.7,739.3 1823.7,719 1813.2,713.3 1810.6,714.6 1800.2,707.2 1795.8,706.4 1795.8,703.3 1788,698.5 1785.8,699.8 1769.7,690.8 1775.8,685.4 1784.1,683.3 1784.5,680.7 1788.7,678.3 1779.7,673.7 1772.3,676.7 1771,675.8 1764,679.7 1757.5,682.8 1744.4,675.3 1750.1,671.9 1746.6,668.4 1738.3,665.3 1732.7,668.4 1717.9,660.1 1724,656.6" fill="#336a4b" stroke="none" stroke-width="3.6" stroke-linejoin="miter" stroke-miterlimit="2" />
<polygon points="1710.5,648.3 1772.8,614.4 1785.4,620.9 1785.4,647 1746.6,668.4 1738.3,665.3 1732.7,668.4 1717.9,660.1 1724,656.6" fill="#58a18b" stroke="none" stroke-width="3.6" stroke-linejoin="miter" stroke-miterlimit="2" />
<polyline points="1772.8,614.4 1785.4,620.9" fill="none" stroke="#222" stroke-width="0.8" stroke-linejoin="miter" stroke-miterlimit="2" />
<polyline points="1785.4,647 1746.6,668.4" fill="none" stroke="#222" stroke-width="0.8" stroke-linejoin="miter" stroke-miterlimit="2" />
<polygon points="1836.8,576.9 1847.7,570.1 1858.7,563.4 1867.1,558.3 1875.6,554.3 1884,550.9 1893.3,548.2 1893.3,525.9 1908.5,521.2 1918.6,531.8 1918.6,539.8 1957.4,577.9 1944.7,581.6 1943.9,599.3 1916.1,615.3 1900.9,612 1900.9,602.7 1889.9,608.3" fill="#d1d0cb" stroke="none" stroke-width="3.6" stroke-linejoin="miter" stroke-miterlimit="2" />
<polygon points="1885.7,610.6 1900.9,602.4 1900.9,613.3 1895,619.6 1883.2,612.8" fill="#fff" stroke="none" stroke-width="3.6" stroke-linejoin="miter" stroke-miterlimit="2" />
<polygon points="1734,634.8 1836.8,576.9 1847.7,570.1 1858.7,563.4 1867.1,558.3 1875.6,554.3 1884,550.9 1893.3,548.2 1893.3,525.9 1908.5,521.2 1918.6,531.8 1918.6,539.8 1957.4,577.9 1944.7,581.6 1943.9,599.3 1989.4,623.6 1995.4,625.3 1995.4,614.3 2002.1,611 2016.4,618.5 2016.4,637.9 2066.2,665.8 2008,699.5 1994.5,691.9 1982.1,699 1982.9,700.3 1980.3,701.8 1979.5,700.4 1962.5,710 1961.9,708.9 1959.2,710.4 1959.9,711.5 1942.9,721.1 1943.7,722.5 1941.1,724 1940.3,722.6 1923.3,732.2 1922.6,731.1 1920,732.6 1920.7,733.7 1903.7,743.3 1904.5,744.7 1901.8,746.1 1901.1,744.7 1884.1,754.4 1883.4,753.2 1880.8,754.7 1881.4,755.8 1864.5,765.4 1865.2,766.8 1862.6,768.3 1861.8,766.9 1849.4,773.9 1788.7,739.3 1823.7,719 1813.2,713.3 1810.6,714.6 1800.2,707.2 1795.8,706.4 1795.8,703.3 1788,698.5 1785.8,699.8 1769.7,690.8 1775.8,685.4 1784.1,683.3 1784.5,680.7 1788.7,678.3 1779.7,673.7 1772.3,676.7 1764,681 1758.8,684.5 1741.4,690.2 1697.8,646.6" fill="none" stroke="#000" stroke-width="3.6" stroke-linejoin="miter" stroke-miterlimit="2" />
<polygon points="1792.8,664.1 1804.5,671.1 1819.3,662.8 1822.8,665 1822.8,653.7 1830.7,649.7 1845,658 1845,677.6 1870.7,692.4 1932.9,656.7 1881.5,627.2 1895,619.6 1883.2,612.8 1873.9,619.6 1805.8,657.6 1796.7,661.1" fill="#fff" stroke="#000" stroke-width="3.6" stroke-linejoin="miter" stroke-miterlimit="2" />
<polygon points="1781.9,673.7 1792.3,667.2 1803.7,672.4 1788.9,678.9" fill="#fff" stroke="#222" stroke-width="0.9" stroke-linejoin="miter" stroke-miterlimit="2" />
<polygon points="1803.9,604.2 1824.1,593.3 1830,595.8 1830,617.7 1809.8,628.7 1808.9,609.3" fill="none" stroke="#1d3d2b" stroke-width="0.8" stroke-linejoin="miter" stroke-miterlimit="2" stroke-dasharray="2.5 2.5"/>
<polygon points="1900,678.5 1917.7,670 1923.7,675.1 1923.7,694.5 1907.6,703.8 1900,699.5" fill="none" stroke="#1d3d2b" stroke-width="0.8" stroke-linejoin="miter" stroke-miterlimit="2" stroke-dasharray="2.5 2.5"/>
<g stroke="#222" stroke-width="0.9" stroke-linejoin="round" fill="#fff"><polygon points="1738.9,663.1 1747,667.6 1760,660.4 1760,640.1 1751.9,635.6 1738.9,642.9"/><polyline points="1738.9,642.9 1747,647.4 1760,640.1" fill="none"/><line x1="1747" y1="667.6" x2="1747" y2="647.4"/></g>
<g stroke="#222" stroke-width="0.9" stroke-linejoin="round" fill="#fff"><polygon points="1785.8,633.1 1793.2,637.3 1806.9,629.6 1806.9,612.4 1799.5,608.3 1785.8,615.9"/><polyline points="1785.8,615.9 1793.2,620.1 1806.9,612.4" fill="none"/><line x1="1793.2" y1="637.3" x2="1793.2" y2="620.1"/></g>
<g stroke="#222" stroke-width="0.9" stroke-linejoin="round" fill="#fff"><polygon points="1784.8,652 1797.6,659.2 1805.2,655 1805.2,635.4 1792.4,628.2 1784.8,632.5"/><polyline points="1784.8,632.5 1797.6,639.6 1805.2,635.4" fill="none"/><line x1="1797.6" y1="659.2" x2="1797.6" y2="639.6"/></g>
<g stroke="#222" stroke-width="0.9" stroke-linejoin="round" fill="#fff"><polygon points="1844.4,602.8 1852.3,607.2 1866.3,599.4 1866.3,578 1858.4,573.5 1844.4,581.4"/><polyline points="1844.4,581.4 1852.3,585.8 1866.3,578" fill="none"/><line x1="1852.3" y1="607.2" x2="1852.3" y2="585.8"/></g>
<g stroke="#222" stroke-width="0.9" stroke-linejoin="round" fill="#fff"><polygon points="1878.6,601.7 1884,604.7 1891.6,600.5 1891.6,579.4 1886.2,576.4 1878.6,580.6"/><polyline points="1878.6,580.6 1884,583.6 1891.6,579.4" fill="none"/><line x1="1884" y1="604.7" x2="1884" y2="583.6"/></g>
<g stroke="#222" stroke-width="0.9" stroke-linejoin="round" fill="#fff"><polygon points="1884.5,604.4 1889.6,607.2 1898.3,602.3 1898.3,581.8 1893.3,578.9 1884.5,583.8"/><polyline points="1884.5,583.8 1889.6,586.7 1898.3,581.8" fill="none"/><line x1="1889.6" y1="607.2" x2="1889.6" y2="586.7"/></g>
<g stroke="#222" stroke-width="0.9" stroke-linejoin="round" fill="#fff"><polygon points="1924.5,603.9 1930.4,607.2 1943.9,599.7 1943.9,578.1 1938,574.8 1924.5,582.3"/><polyline points="1924.5,582.3 1930.4,585.7 1943.9,578.1" fill="none"/><line x1="1930.4" y1="607.2" x2="1930.4" y2="585.7"/></g>
<g stroke="#222" stroke-width="0.9" stroke-linejoin="round" fill="#fff"><polygon points="1915.2,607.9 1922.5,612 1930.4,607.5 1930.4,585.9 1923.1,581.9 1915.2,586.3"/><polyline points="1915.2,586.3 1922.5,590.4 1930.4,585.9" fill="none"/><line x1="1922.5" y1="612" x2="1922.5" y2="590.4"/></g>
<g stroke="#222" stroke-width="0.9" stroke-linejoin="round" fill="#fff"><polygon points="1902.2,615.6 1909.3,619.6 1916.9,615.3 1916.9,592.5 1909.8,588.6 1902.2,592.8"/><polyline points="1902.2,592.8 1909.3,596.8 1916.9,592.5" fill="none"/><line x1="1909.3" y1="619.6" x2="1909.3" y2="596.8"/></g>
<g stroke="#222" stroke-width="0.9" stroke-linejoin="round" fill="#fff"><polygon points="1968.4,652.7 1979.3,658.9 1986.6,654.8 1986.6,634.6 1975.6,628.4 1968.4,632.5"/><polyline points="1968.4,632.5 1979.3,638.6 1986.6,634.6" fill="none"/><line x1="1979.3" y1="658.9" x2="1979.3" y2="638.6"/><polyline points="1975.1,656.5 1975.1,636.3 1982.4,632.2" fill="none" stroke-width="0.7200000000000001"/><polyline points="1972.9,655.3 1972.9,635 1980.2,631" fill="none" stroke-width="0.7200000000000001"/></g>
<g stroke="#222" stroke-width="0.9" stroke-linejoin="round" fill="#fff"><polygon points="1995.4,638 2008.5,645.4 2014.8,641.9 2014.8,621.1 2001.6,613.8 1995.4,617.3"/><polyline points="1995.4,617.3 2008.5,624.6 2014.8,621.1" fill="none"/><line x1="2008.5" y1="645.4" x2="2008.5" y2="624.6"/></g>
<g stroke="#222" stroke-width="0.9" stroke-linejoin="round" fill="#fff"><polygon points="1824.1,676.1 1837.6,683.7 1844,680.1 1844,659 1830.5,651.4 1824.1,655"/><polyline points="1824.1,655 1837.6,662.6 1844,659" fill="none"/><line x1="1837.6" y1="683.7" x2="1837.6" y2="662.6"/></g>
<g stroke="#222" stroke-width="0.9" stroke-linejoin="round" fill="#fff"><polygon points="1916.9,690 1924.5,694.3 1937.7,686.9 1937.7,666.7 1930.1,662.4 1916.9,669.8"/><polyline points="1916.9,669.8 1924.5,674.1 1937.7,666.7" fill="none"/><line x1="1924.5" y1="694.3" x2="1924.5" y2="674.1"/></g>
<g stroke="#222" stroke-width="0.9" stroke-linejoin="round" fill="#fff"><polygon points="1843.9,725.2 1851.1,729.2 1865.1,721.4 1865.1,700.8 1857.9,696.7 1843.9,704.6"/><polyline points="1843.9,704.6 1851.1,708.6 1865.1,700.8" fill="none"/><line x1="1851.1" y1="729.2" x2="1851.1" y2="708.6"/></g>
<g stroke="#222" stroke-width="0.9" stroke-linejoin="round" fill="#fff"><polygon points="1824.1,736.1 1831.4,740.2 1844.9,732.6 1844.9,712.7 1837.6,708.7 1824.1,716.2"/><polyline points="1824.1,716.2 1831.4,720.3 1844.9,712.7" fill="none"/><line x1="1831.4" y1="740.2" x2="1831.4" y2="720.3"/></g>
<polygon points="1708.7,461.1 1836.8,389.4 1847.7,382.6 1858.7,375.9 1867.1,370.8 1875.6,366.8 1884,363.4 1893.3,360.7 1893.3,338.4 1908.5,333.7 1918.6,344.3 1918.6,352.3 1957.4,390.4 1944.7,394.1 1943.9,411.8 1995.4,440.5 1995.4,427.8 2002.1,424.5 2016.4,432.1 2016.4,452.8 2051,472.5 2037.8,480 2038.6,481.4 2035,483.4 2034.2,482.1 2016.4,492.1 2015.7,491 2012.1,493.1 2012.7,494.2 1994.9,504.2 1995.7,505.6 1992.1,507.7 1991.3,506.3 1973.5,516.3 1972.9,515.2 1969.2,517.3 1969.9,518.4 1952,528.5 1952.8,529.9 1949.2,531.9 1948.4,530.5 1930.6,540.6 1930,539.5 1926.3,541.5 1927,542.6 1909.1,552.7 1909.9,554.1 1906.3,556.1 1905.5,554.7 1887.7,564.8 1887.1,563.7 1883.4,565.7 1884.1,566.9 1866.3,576.9 1867,578.3 1863.4,580.4 1862.6,579 1849.4,586.4 1788.7,551.8 1823.7,531.5 1813.2,525.8 1810.6,527.1 1800.2,519.7 1795.8,518.9 1795.8,515.8 1788,511 1785.8,512.3 1769.7,503.3 1775.8,497.9 1784.1,495.8 1784.5,493.2 1788.7,490.8 1779.7,486.2 1772.3,489.2 1769.7,491.6 1766.2,494 1758.8,497.5 1743.6,488.4 1751.4,484.4 1738.3,477.5 1732.7,481.4 1717,472.7 1723.1,468.8" fill="#4a90be" stroke="none" stroke-width="3.6" stroke-linejoin="miter" stroke-miterlimit="2" />
<polygon points="1943.9,411.8 1995.4,440.5 1995.4,427.8 2002.1,424.5 2016.4,432.1 2016.4,452.8 2051,472.5 1929.6,541.2 1870.5,505.1 1932.9,469.2 1881.5,439.7 1895,432.1 1900.9,427.8 1916.1,427.8" fill="#58a18b" stroke="none" stroke-width="3.6" stroke-linejoin="miter" stroke-miterlimit="2" />
<polygon points="1836.8,389.4 1847.7,382.6 1858.7,375.9 1867.1,370.8 1875.6,366.8 1884,363.4 1893.3,360.7 1893.3,338.4 1908.5,333.7 1918.6,344.3 1918.6,352.3 1957.4,390.4 1944.7,394.1 1943.9,411.8 1916.1,427.8 1900.9,424.5 1900.9,415.2 1889.9,420.8" fill="#d1d0cb" stroke="none" stroke-width="3.6" stroke-linejoin="miter" stroke-miterlimit="2" />
<polygon points="1885.7,423.1 1900.9,414.9 1900.9,425.8 1895,432.1 1883.2,425.3" fill="#fff" stroke="none" stroke-width="3.6" stroke-linejoin="miter" stroke-miterlimit="2" />
<polygon points="1708.7,461.1 1836.8,389.4 1847.7,382.6 1858.7,375.9 1867.1,370.8 1875.6,366.8 1884,363.4 1893.3,360.7 1893.3,338.4 1908.5,333.7 1918.6,344.3 1918.6,352.3 1957.4,390.4 1944.7,394.1 1943.9,411.8 1995.4,440.5 1995.4,427.8 2002.1,424.5 2016.4,432.1 2016.4,452.8 2051,472.5 2037.8,480 2038.6,481.4 2035,483.4 2034.2,482.1 2016.4,492.1 2015.7,491 2012.1,493.1 2012.7,494.2 1994.9,504.2 1995.7,505.6 1992.1,507.7 1991.3,506.3 1973.5,516.3 1972.9,515.2 1969.2,517.3 1969.9,518.4 1952,528.5 1952.8,529.9 1949.2,531.9 1948.4,530.5 1930.6,540.6 1930,539.5 1926.3,541.5 1927,542.6 1909.1,552.7 1909.9,554.1 1906.3,556.1 1905.5,554.7 1887.7,564.8 1887.1,563.7 1883.4,565.7 1884.1,566.9 1866.3,576.9 1867,578.3 1863.4,580.4 1862.6,579 1849.4,586.4 1788.7,551.8 1823.7,531.5 1813.2,525.8 1810.6,527.1 1800.2,519.7 1795.8,518.9 1795.8,515.8 1788,511 1785.8,512.3 1769.7,503.3 1775.8,497.9 1784.1,495.8 1784.5,493.2 1788.7,490.8 1779.7,486.2 1772.3,489.2 1769.7,491.6 1766.2,494 1758.8,497.5 1743.6,488.4 1751.4,484.4 1738.3,477.5 1732.7,481.4 1717,472.7 1723.1,468.8" fill="none" stroke="#000" stroke-width="3.6" stroke-linejoin="miter" stroke-miterlimit="2" />
<polygon points="1792.8,476.6 1804.5,483.6 1819.3,475.3 1822.8,477.5 1822.8,466.2 1830.7,462.2 1845,470.5 1845,490.1 1870.7,504.9 1932.9,469.2 1881.5,439.7 1895,432.1 1883.2,425.3 1873.9,432.1 1805.8,470.1 1796.7,473.6" fill="#fff" stroke="#000" stroke-width="3.6" stroke-linejoin="miter" stroke-miterlimit="2" />
<polygon points="1781.9,486.2 1792.3,479.7 1803.7,484.9 1788.9,491.4" fill="#fff" stroke="#222" stroke-width="0.9" stroke-linejoin="miter" stroke-miterlimit="2" />
<line x1="1870.5" y1="505.1" x2="1929.6" y2="541.2" stroke="#222" stroke-width="1.0"/>
<g stroke="#222" stroke-width="0.9" stroke-linejoin="round" fill="#fff"><polygon points="1738.9,475.6 1747,480.1 1760,472.9 1760,452.6 1751.9,448.1 1738.9,455.4"/><polyline points="1738.9,455.4 1747,459.9 1760,452.6" fill="none"/><line x1="1747" y1="480.1" x2="1747" y2="459.9"/></g>
<g stroke="#222" stroke-width="0.9" stroke-linejoin="round" fill="#fff"><polygon points="1785.8,445.6 1793.2,449.8 1806.9,442.1 1806.9,424.9 1799.5,420.8 1785.8,428.4"/><polyline points="1785.8,428.4 1793.2,432.6 1806.9,424.9" fill="none"/><line x1="1793.2" y1="449.8" x2="1793.2" y2="432.6"/></g>
<g stroke="#222" stroke-width="0.9" stroke-linejoin="round" fill="#fff"><polygon points="1784.8,464.5 1797.6,471.7 1805.2,467.5 1805.2,447.9 1792.4,440.7 1784.8,445"/><polyline points="1784.8,445 1797.6,452.1 1805.2,447.9" fill="none"/><line x1="1797.6" y1="471.7" x2="1797.6" y2="452.1"/></g>
<g stroke="#222" stroke-width="0.9" stroke-linejoin="round" fill="#fff"><polygon points="1844.4,415.3 1852.3,419.7 1866.3,411.9 1866.3,390.5 1858.4,386 1844.4,393.9"/><polyline points="1844.4,393.9 1852.3,398.3 1866.3,390.5" fill="none"/><line x1="1852.3" y1="419.7" x2="1852.3" y2="398.3"/></g>
<g stroke="#222" stroke-width="0.9" stroke-linejoin="round" fill="#fff"><polygon points="1878.6,414.2 1884,417.2 1891.6,413 1891.6,391.9 1886.2,388.9 1878.6,393.1"/><polyline points="1878.6,393.1 1884,396.1 1891.6,391.9" fill="none"/><line x1="1884" y1="417.2" x2="1884" y2="396.1"/></g>
<g stroke="#222" stroke-width="0.9" stroke-linejoin="round" fill="#fff"><polygon points="1884.5,416.9 1889.6,419.7 1898.3,414.8 1898.3,394.3 1893.3,391.4 1884.5,396.3"/><polyline points="1884.5,396.3 1889.6,399.2 1898.3,394.3" fill="none"/><line x1="1889.6" y1="419.7" x2="1889.6" y2="399.2"/></g>
<g stroke="#222" stroke-width="0.9" stroke-linejoin="round" fill="#fff"><polygon points="1924.5,416.4 1930.4,419.7 1943.9,412.2 1943.9,390.6 1938,387.3 1924.5,394.8"/><polyline points="1924.5,394.8 1930.4,398.2 1943.9,390.6" fill="none"/><line x1="1930.4" y1="419.7" x2="1930.4" y2="398.2"/></g>
<g stroke="#222" stroke-width="0.9" stroke-linejoin="round" fill="#fff"><polygon points="1915.2,420.4 1922.5,424.5 1930.4,420 1930.4,398.4 1923.1,394.4 1915.2,398.8"/><polyline points="1915.2,398.8 1922.5,402.9 1930.4,398.4" fill="none"/><line x1="1922.5" y1="424.5" x2="1922.5" y2="402.9"/></g>
<g stroke="#222" stroke-width="0.9" stroke-linejoin="round" fill="#fff"><polygon points="1902.2,428.1 1909.3,432.1 1916.9,427.8 1916.9,405 1909.8,401.1 1902.2,405.3"/><polyline points="1902.2,405.3 1909.3,409.3 1916.9,405" fill="none"/><line x1="1909.3" y1="432.1" x2="1909.3" y2="409.3"/></g>
<g stroke="#222" stroke-width="0.9" stroke-linejoin="round" fill="#fff"><polygon points="1968.4,465.2 1979.3,471.4 1986.6,467.3 1986.6,447.1 1975.6,440.9 1968.4,445"/><polyline points="1968.4,445 1979.3,451.1 1986.6,447.1" fill="none"/><line x1="1979.3" y1="471.4" x2="1979.3" y2="451.1"/><polyline points="1975.1,469 1975.1,448.8 1982.4,444.7" fill="none" stroke-width="0.7200000000000001"/><polyline points="1972.9,467.8 1972.9,447.5 1980.2,443.5" fill="none" stroke-width="0.7200000000000001"/></g>
<g stroke="#222" stroke-width="0.9" stroke-linejoin="round" fill="#fff"><polygon points="1995.4,450.5 2008.5,457.9 2014.8,454.4 2014.8,433.6 2001.6,426.3 1995.4,429.8"/><polyline points="1995.4,429.8 2008.5,437.1 2014.8,433.6" fill="none"/><line x1="2008.5" y1="457.9" x2="2008.5" y2="437.1"/></g>
<g stroke="#222" stroke-width="0.9" stroke-linejoin="round" fill="#fff"><polygon points="1824.1,488.6 1837.6,496.2 1844,492.6 1844,471.5 1830.5,463.9 1824.1,467.5"/><polyline points="1824.1,467.5 1837.6,475.1 1844,471.5" fill="none"/><line x1="1837.6" y1="496.2" x2="1837.6" y2="475.1"/></g>
<g stroke="#222" stroke-width="0.9" stroke-linejoin="round" fill="#fff"><polygon points="1916.9,502.5 1924.5,506.8 1937.7,499.4 1937.7,479.2 1930.1,474.9 1916.9,482.3"/><polyline points="1916.9,482.3 1924.5,486.6 1937.7,479.2" fill="none"/><line x1="1924.5" y1="506.8" x2="1924.5" y2="486.6"/></g>
<g stroke="#222" stroke-width="0.9" stroke-linejoin="round" fill="#fff"><polygon points="1843.9,537.7 1851.1,541.7 1865.1,533.9 1865.1,513.3 1857.9,509.2 1843.9,517.1"/><polyline points="1843.9,517.1 1851.1,521.1 1865.1,513.3" fill="none"/><line x1="1851.1" y1="541.7" x2="1851.1" y2="521.1"/></g>
<g stroke="#222" stroke-width="0.9" stroke-linejoin="round" fill="#fff"><polygon points="1824.1,548.6 1831.4,552.7 1844.9,545.1 1844.9,525.2 1837.6,521.2 1824.1,528.7"/><polyline points="1824.1,528.7 1831.4,532.8 1844.9,525.2" fill="none"/><line x1="1831.4" y1="552.7" x2="1831.4" y2="532.8"/></g>
<polygon points="1708.7,274.6 1836.8,202.9 1847.7,196.1 1858.7,189.4 1867.1,184.3 1875.6,180.3 1884,176.9 1893.3,174.2 1893.3,151.9 1908.5,147.2 1918.6,157.8 1918.6,165.8 1957.4,203.9 1944.7,207.6 1943.9,225.3 1995.4,254 1995.4,241.3 2002.1,238 2016.4,245.6 2016.4,266.3 2051,286 2037.8,293.5 2038.6,294.9 2035,296.9 2034.2,295.6 2016.4,305.6 2015.7,304.5 2012.1,306.6 2012.7,307.7 1994.9,317.7 1995.7,319.1 1992.1,321.2 1991.3,319.8 1973.5,329.8 1972.9,328.7 1969.2,330.8 1969.9,331.9 1952,342 1952.8,343.4 1949.2,345.4 1948.4,344 1930.6,354.1 1930,353 1926.3,355 1927,356.1 1909.1,366.2 1909.9,367.6 1906.3,369.6 1905.5,368.2 1887.7,378.3 1887.1,377.2 1883.4,379.2 1884.1,380.4 1866.3,390.4 1867,391.8 1863.4,393.9 1862.6,392.5 1849.4,399.9 1788.7,365.3 1823.7,345 1813.2,339.3 1810.6,340.6 1800.2,333.2 1795.8,332.4 1795.8,329.3 1788,324.5 1785.8,325.8 1769.7,316.8 1775.8,311.4 1784.1,309.3 1784.5,306.7 1788.7,304.3 1779.7,299.7 1772.3,302.7 1769.7,305.1 1766.2,307.5 1758.8,311 1743.6,301.9 1751.4,297.9 1738.3,291 1732.7,294.9 1717,286.2 1723.1,282.3" fill="#4a90be" stroke="none" stroke-width="3.6" stroke-linejoin="miter" stroke-miterlimit="2" />
<polygon points="1836.8,202.9 1847.7,196.1 1858.7,189.4 1867.1,184.3 1875.6,180.3 1884,176.9 1893.3,174.2 1893.3,151.9 1908.5,147.2 1918.6,157.8 1918.6,165.8 1957.4,203.9 1944.7,207.6 1943.9,225.3 1916.1,241.3 1900.9,238 1900.9,228.7 1889.9,234.3" fill="#d1d0cb" stroke="none" stroke-width="3.6" stroke-linejoin="miter" stroke-miterlimit="2" />
<polygon points="1885.7,236.6 1900.9,228.4 1900.9,239.3 1895,245.6 1883.2,238.8" fill="#fff" stroke="none" stroke-width="3.6" stroke-linejoin="miter" stroke-miterlimit="2" />
<polygon points="1708.7,274.6 1836.8,202.9 1847.7,196.1 1858.7,189.4 1867.1,184.3 1875.6,180.3 1884,176.9 1893.3,174.2 1893.3,151.9 1908.5,147.2 1918.6,157.8 1918.6,165.8 1957.4,203.9 1944.7,207.6 1943.9,225.3 1995.4,254 1995.4,241.3 2002.1,238 2016.4,245.6 2016.4,266.3 2051,286 2037.8,293.5 2038.6,294.9 2035,296.9 2034.2,295.6 2016.4,305.6 2015.7,304.5 2012.1,306.6 2012.7,307.7 1994.9,317.7 1995.7,319.1 1992.1,321.2 1991.3,319.8 1973.5,329.8 1972.9,328.7 1969.2,330.8 1969.9,331.9 1952,342 1952.8,343.4 1949.2,345.4 1948.4,344 1930.6,354.1 1930,353 1926.3,355 1927,356.1 1909.1,366.2 1909.9,367.6 1906.3,369.6 1905.5,368.2 1887.7,378.3 1887.1,377.2 1883.4,379.2 1884.1,380.4 1866.3,390.4 1867,391.8 1863.4,393.9 1862.6,392.5 1849.4,399.9 1788.7,365.3 1823.7,345 1813.2,339.3 1810.6,340.6 1800.2,333.2 1795.8,332.4 1795.8,329.3 1788,324.5 1785.8,325.8 1769.7,316.8 1775.8,311.4 1784.1,309.3 1784.5,306.7 1788.7,304.3 1779.7,299.7 1772.3,302.7 1769.7,305.1 1766.2,307.5 1758.8,311 1743.6,301.9 1751.4,297.9 1738.3,291 1732.7,294.9 1717,286.2 1723.1,282.3" fill="none" stroke="#000" stroke-width="3.6" stroke-linejoin="miter" stroke-miterlimit="2" />
<polygon points="1792.8,290.1 1804.5,297.1 1819.3,288.8 1822.8,291 1822.8,279.7 1830.7,275.7 1845,284 1845,303.6 1870.7,318.4 1932.9,282.7 1881.5,253.2 1895,245.6 1883.2,238.8 1873.9,245.6 1805.8,283.6 1796.7,287.1" fill="#fff" stroke="#000" stroke-width="3.6" stroke-linejoin="miter" stroke-miterlimit="2" />
<polygon points="1781.9,299.7 1792.3,293.2 1803.7,298.4 1788.9,304.9" fill="#fff" stroke="#222" stroke-width="0.9" stroke-linejoin="miter" stroke-miterlimit="2" />
<g stroke="#222" stroke-width="0.9" stroke-linejoin="round" fill="#fff"><polygon points="1738.9,289.1 1747,293.6 1760,286.4 1760,266.1 1751.9,261.6 1738.9,268.9"/><polyline points="1738.9,268.9 1747,273.4 1760,266.1" fill="none"/><line x1="1747" y1="293.6" x2="1747" y2="273.4"/></g>
<g stroke="#222" stroke-width="0.9" stroke-linejoin="round" fill="#fff"><polygon points="1785.8,259.1 1793.2,263.3 1806.9,255.6 1806.9,238.4 1799.5,234.3 1785.8,241.9"/><polyline points="1785.8,241.9 1793.2,246.1 1806.9,238.4" fill="none"/><line x1="1793.2" y1="263.3" x2="1793.2" y2="246.1"/></g>
<g stroke="#222" stroke-width="0.9" stroke-linejoin="round" fill="#fff"><polygon points="1784.8,278 1797.6,285.2 1805.2,281 1805.2,261.4 1792.4,254.2 1784.8,258.5"/><polyline points="1784.8,258.5 1797.6,265.6 1805.2,261.4" fill="none"/><line x1="1797.6" y1="285.2" x2="1797.6" y2="265.6"/></g>
<g stroke="#222" stroke-width="0.9" stroke-linejoin="round" fill="#fff"><polygon points="1844.4,228.8 1852.3,233.2 1866.3,225.4 1866.3,204 1858.4,199.5 1844.4,207.4"/><polyline points="1844.4,207.4 1852.3,211.8 1866.3,204" fill="none"/><line x1="1852.3" y1="233.2" x2="1852.3" y2="211.8"/></g>
<g stroke="#222" stroke-width="0.9" stroke-linejoin="round" fill="#fff"><polygon points="1878.6,227.7 1884,230.7 1891.6,226.5 1891.6,205.4 1886.2,202.4 1878.6,206.6"/><polyline points="1878.6,206.6 1884,209.6 1891.6,205.4" fill="none"/><line x1="1884" y1="230.7" x2="1884" y2="209.6"/></g>
<g stroke="#222" stroke-width="0.9" stroke-linejoin="round" fill="#fff"><polygon points="1884.5,230.4 1889.6,233.2 1898.3,228.3 1898.3,207.8 1893.3,204.9 1884.5,209.8"/><polyline points="1884.5,209.8 1889.6,212.7 1898.3,207.8" fill="none"/><line x1="1889.6" y1="233.2" x2="1889.6" y2="212.7"/></g>
<g stroke="#222" stroke-width="0.9" stroke-linejoin="round" fill="#fff"><polygon points="1924.5,229.9 1930.4,233.2 1943.9,225.7 1943.9,204.1 1938,200.8 1924.5,208.3"/><polyline points="1924.5,208.3 1930.4,211.7 1943.9,204.1" fill="none"/><line x1="1930.4" y1="233.2" x2="1930.4" y2="211.7"/></g>
<g stroke="#222" stroke-width="0.9" stroke-linejoin="round" fill="#fff"><polygon points="1915.2,233.9 1922.5,238 1930.4,233.5 1930.4,211.9 1923.1,207.9 1915.2,212.3"/><polyline points="1915.2,212.3 1922.5,216.4 1930.4,211.9" fill="none"/><line x1="1922.5" y1="238" x2="1922.5" y2="216.4"/></g>
<g stroke="#222" stroke-width="0.9" stroke-linejoin="round" fill="#fff"><polygon points="1902.2,241.6 1909.3,245.6 1916.9,241.3 1916.9,218.5 1909.8,214.6 1902.2,218.8"/><polyline points="1902.2,218.8 1909.3,222.8 1916.9,218.5" fill="none"/><line x1="1909.3" y1="245.6" x2="1909.3" y2="222.8"/></g>
<g stroke="#222" stroke-width="0.9" stroke-linejoin="round" fill="#fff"><polygon points="1968.4,278.7 1979.3,284.9 1986.6,280.8 1986.6,260.6 1975.6,254.4 1968.4,258.5"/><polyline points="1968.4,258.5 1979.3,264.6 1986.6,260.6" fill="none"/><line x1="1979.3" y1="284.9" x2="1979.3" y2="264.6"/><polyline points="1975.1,282.5 1975.1,262.3 1982.4,258.2" fill="none" stroke-width="0.7200000000000001"/><polyline points="1972.9,281.3 1972.9,261 1980.2,257" fill="none" stroke-width="0.7200000000000001"/></g>
<g stroke="#222" stroke-width="0.9" stroke-linejoin="round" fill="#fff"><polygon points="1995.4,264 2008.5,271.4 2014.8,267.9 2014.8,247.1 2001.6,239.8 1995.4,243.3"/><polyline points="1995.4,243.3 2008.5,250.6 2014.8,247.1" fill="none"/><line x1="2008.5" y1="271.4" x2="2008.5" y2="250.6"/></g>
<g stroke="#222" stroke-width="0.9" stroke-linejoin="round" fill="#fff"><polygon points="1824.1,302.1 1837.6,309.7 1844,306.1 1844,285 1830.5,277.4 1824.1,281"/><polyline points="1824.1,281 1837.6,288.6 1844,285" fill="none"/><line x1="1837.6" y1="309.7" x2="1837.6" y2="288.6"/></g>
<g stroke="#222" stroke-width="0.9" stroke-linejoin="round" fill="#fff"><polygon points="1916.9,316 1924.5,320.3 1937.7,312.9 1937.7,292.7 1930.1,288.4 1916.9,295.8"/><polyline points="1916.9,295.8 1924.5,300.1 1937.7,292.7" fill="none"/><line x1="1924.5" y1="320.3" x2="1924.5" y2="300.1"/></g>
<g stroke="#222" stroke-width="0.9" stroke-linejoin="round" fill="#fff"><polygon points="1843.9,351.2 1851.1,355.2 1865.1,347.4 1865.1,326.8 1857.9,322.7 1843.9,330.6"/><polyline points="1843.9,330.6 1851.1,334.6 1865.1,326.8" fill="none"/><line x1="1851.1" y1="355.2" x2="1851.1" y2="334.6"/></g>
<g stroke="#222" stroke-width="0.9" stroke-linejoin="round" fill="#fff"><polygon points="1824.1,362.1 1831.4,366.2 1844.9,358.6 1844.9,338.7 1837.6,334.7 1824.1,342.2"/><polyline points="1824.1,342.2 1831.4,346.3 1844.9,338.7" fill="none"/><line x1="1831.4" y1="366.2" x2="1831.4" y2="346.3"/></g>
<polygon points="1895,178.9 1903.9,184.3 1918.6,179.3 1918.6,157.8 1908.5,148.2 1895,153.6" fill="#fff" stroke="#222" stroke-width="0.9" stroke-linejoin="miter" stroke-miterlimit="2" />
<polyline points="1895,153.6 1903.9,160.4 1918.6,157.8" fill="none" stroke="#222" stroke-width="0.9" stroke-linejoin="miter" stroke-miterlimit="2" />
<polyline points="1903.9,160.4 1903.9,184.3" fill="none" stroke="#222" stroke-width="0.9" stroke-linejoin="miter" stroke-miterlimit="2" />
<polyline points="1902.9,151.6 1911,158.3 1911,181.8" fill="none" stroke="#222" stroke-width="0.8" stroke-linejoin="miter" stroke-miterlimit="2" />
<polyline points="1893.3,174.2 1893.3,151.9 1908.5,147.2 1918.6,157.8 1918.6,165.8" fill="none" stroke="#000" stroke-width="3.6" stroke-linejoin="miter" stroke-miterlimit="2" />
<text x="406.5" y="237.6" font-size="45.5" font-weight="bold" text-anchor="start" textLength="216.5" lengthAdjust="spacingAndGlyphs">HOSPITAL</text>
<text x="406.5" y="290.4" font-size="45.5" font-weight="bold" text-anchor="start" textLength="225" lengthAdjust="spacingAndGlyphs">PROGRAM</text>
<text x="1030.5" y="236.8" font-size="37.0" font-weight="normal" text-anchor="end" textLength="82.5" lengthAdjust="spacingAndGlyphs">Level</text>
<text transform="translate(1030.5,278.6) scale(0.97,1)" font-size="37.0" font-weight="bold" text-anchor="end">8 - W3</text>
<text x="1030.5" y="423.6" font-size="37.0" font-weight="normal" text-anchor="end" textLength="82.5" lengthAdjust="spacingAndGlyphs">Level</text>
<text transform="translate(1030.5,465.4) scale(0.97,1)" font-size="37.0" font-weight="bold" text-anchor="end">7 - W2</text>
<text x="1030.5" y="610.4" font-size="37.0" font-weight="normal" text-anchor="end" textLength="82.5" lengthAdjust="spacingAndGlyphs">Level</text>
<text transform="translate(1030.5,652.2) scale(0.97,1)" font-size="37.0" font-weight="bold" text-anchor="end">6 - W1</text>
<text x="1030.5" y="797.2" font-size="37.0" font-weight="normal" text-anchor="end" textLength="82.5" lengthAdjust="spacingAndGlyphs">Level</text>
<text transform="translate(1030.5,839) scale(0.97,1)" font-size="37.0" font-weight="bold" text-anchor="end">5 H</text>
<text x="1030.5" y="984" font-size="37.0" font-weight="normal" text-anchor="end" textLength="82.5" lengthAdjust="spacingAndGlyphs">Level</text>
<text transform="translate(1030.5,1025.8) scale(0.97,1)" font-size="37.0" font-weight="bold" text-anchor="end">4 H</text>
<text x="1030.5" y="1170.8" font-size="37.0" font-weight="normal" text-anchor="end" textLength="82.5" lengthAdjust="spacingAndGlyphs">Level</text>
<text transform="translate(1030.5,1212.6) scale(0.97,1)" font-size="37.0" font-weight="bold" text-anchor="end">3 H</text>
<text x="1030.5" y="1357.6" font-size="37.0" font-weight="normal" text-anchor="end" textLength="82.5" lengthAdjust="spacingAndGlyphs">Level</text>
<text transform="translate(1030.5,1399.4) scale(0.97,1)" font-size="37.0" font-weight="bold" text-anchor="end">2</text>
<text x="1030.5" y="1544.4" font-size="37.0" font-weight="normal" text-anchor="end" textLength="82.5" lengthAdjust="spacingAndGlyphs">Level</text>
<text transform="translate(1030.5,1586.2) scale(0.97,1)" font-size="37.0" font-weight="bold" text-anchor="end">1</text>
<text x="1030.5" y="1731.2" font-size="37.0" font-weight="normal" text-anchor="end" textLength="82.5" lengthAdjust="spacingAndGlyphs">Level</text>
<text transform="translate(1030.5,1773) scale(0.97,1)" font-size="37.0" font-weight="bold" text-anchor="end">B1</text>
<text x="1030.5" y="1918" font-size="37.0" font-weight="normal" text-anchor="end" textLength="82.5" lengthAdjust="spacingAndGlyphs">Level</text>
<text transform="translate(1030.5,1959.8) scale(0.97,1)" font-size="37.0" font-weight="bold" text-anchor="end">B2</text>
<text x="1030.5" y="2074.8" font-size="37.0" font-weight="normal" text-anchor="end" textLength="82.5" lengthAdjust="spacingAndGlyphs">Level</text>
<text transform="translate(1030.5,2116.6) scale(0.97,1)" font-size="37.0" font-weight="bold" text-anchor="end">B3</text>
<text x="1030.5" y="2217.2" font-size="37.0" font-weight="normal" text-anchor="end" textLength="82.5" lengthAdjust="spacingAndGlyphs">Level</text>
<text transform="translate(1030.5,2259) scale(0.97,1)" font-size="37.0" font-weight="bold" text-anchor="end">B4</text>
<rect x="2703.5" y="204.4" width="41.5" height="41.5" fill="#d1d0cb" stroke="#7a7a7a" stroke-width="1"/>
<text x="2778.6" y="238" font-size="37.6" font-weight="normal" text-anchor="start" textLength="447.9" lengthAdjust="spacingAndGlyphs" stroke="#fff" stroke-width="0.2">Administration Department</text>
<rect x="2703.5" y="254.8" width="41.5" height="41.5" fill="#4a90be" stroke="#7a7a7a" stroke-width="1"/>
<text x="2778.6" y="288.4" font-size="37.6" font-weight="normal" text-anchor="start" textLength="323.2" lengthAdjust="spacingAndGlyphs" stroke="#fff" stroke-width="0.2">Medicine &amp; Surgery</text>
<rect x="2703.5" y="305.3" width="41.5" height="41.5" fill="#58a18b" stroke="#7a7a7a" stroke-width="1"/>
<text x="2778.6" y="338.9" font-size="37.6" font-weight="normal" text-anchor="start" textLength="143" lengthAdjust="spacingAndGlyphs" stroke="#fff" stroke-width="0.2">Pediatric</text>
<rect x="2703.5" y="355.7" width="41.5" height="41.5" fill="#336a4b" stroke="#7a7a7a" stroke-width="1"/>
<text x="2778.6" y="389.3" font-size="37.6" font-weight="normal" text-anchor="start" textLength="119.7" lengthAdjust="spacingAndGlyphs" stroke="#fff" stroke-width="0.2">OBGYN</text>
<rect x="2703.5" y="406.2" width="41.5" height="41.5" fill="#10589f" stroke="#7a7a7a" stroke-width="1"/>
<text x="2778.6" y="439.8" font-size="37.6" font-weight="normal" text-anchor="start" textLength="311" lengthAdjust="spacingAndGlyphs" stroke="#fff" stroke-width="0.2">Intensive Care Unit</text>
<rect x="2703.5" y="456.6" width="41.5" height="41.5" fill="#5e4669" stroke="#7a7a7a" stroke-width="1"/>
<text x="2778.6" y="490.2" font-size="37.6" font-weight="normal" text-anchor="start" textLength="202.9" lengthAdjust="spacingAndGlyphs" stroke="#fff" stroke-width="0.2">OT Complex</text>
<rect x="2703.5" y="507" width="41.5" height="41.5" fill="#a9b4a2" stroke="#7a7a7a" stroke-width="1"/>
<text x="2778.6" y="540.6" font-size="37.6" font-weight="normal" text-anchor="start" textLength="384.1" lengthAdjust="spacingAndGlyphs" stroke="#fff" stroke-width="0.2">Outpatient Department</text>
<rect x="2703.5" y="557.5" width="41.5" height="41.5" fill="#b5c2d3" stroke="#7a7a7a" stroke-width="1"/>
<text x="2778.6" y="591.1" font-size="37.6" font-weight="normal" text-anchor="start" textLength="392.5" lengthAdjust="spacingAndGlyphs" stroke="#fff" stroke-width="0.2">Emergency Department</text>
<rect x="2703.5" y="607.9" width="41.5" height="41.5" fill="#bd8f33" stroke="#7a7a7a" stroke-width="1"/>
<text x="2778.6" y="641.5" font-size="37.6" font-weight="normal" text-anchor="start" textLength="335.9" lengthAdjust="spacingAndGlyphs" stroke="#fff" stroke-width="0.2">Central Laboratories</text>
<rect x="2703.5" y="658.4" width="41.5" height="41.5" fill="#a27045" stroke="#7a7a7a" stroke-width="1"/>
<text x="2778.6" y="692" font-size="37.6" font-weight="normal" text-anchor="start" textLength="352.5" lengthAdjust="spacingAndGlyphs" stroke="#fff" stroke-width="0.2">Imaging &amp; Diagnostic</text>
<rect x="2703.5" y="708.8" width="41.5" height="41.5" fill="#f0ca22" stroke="#7a7a7a" stroke-width="1"/>
<text x="2778.6" y="742.4" font-size="37.6" font-weight="normal" text-anchor="start" textLength="291.6" lengthAdjust="spacingAndGlyphs" stroke="#fff" stroke-width="0.2">Central Pharmacy</text>
<rect x="2703.5" y="759.2" width="41.5" height="41.5" fill="#f7e6df" stroke="#7a7a7a" stroke-width="1"/>
<text x="2778.6" y="792.8" font-size="37.6" font-weight="normal" text-anchor="start" textLength="164" lengthAdjust="spacingAndGlyphs" stroke="#fff" stroke-width="0.2">Academic</text>
<rect x="2703.5" y="809.7" width="41.5" height="41.5" fill="#403a36" stroke="#7a7a7a" stroke-width="1"/>
<text x="2778.6" y="843.3" font-size="37.6" font-weight="normal" text-anchor="start" textLength="125.3" lengthAdjust="spacingAndGlyphs" stroke="#fff" stroke-width="0.2">Morgue</text>
<rect x="2703.5" y="860.1" width="41.5" height="41.5" fill="#4d4d27" stroke="#7a7a7a" stroke-width="1"/>
<text x="2778.6" y="893.7" font-size="37.6" font-weight="normal" text-anchor="start" textLength="323.2" lengthAdjust="spacingAndGlyphs" stroke="#fff" stroke-width="0.2">Central Sterilization</text>
<rect x="2703.5" y="910.6" width="41.5" height="41.5" fill="#7f685e" stroke="#7a7a7a" stroke-width="1"/>
<text x="2778.6" y="944.2" font-size="37.6" font-weight="normal" text-anchor="start" textLength="283.3" lengthAdjust="spacingAndGlyphs" stroke="#fff" stroke-width="0.2">Support Services</text>
<rect x="2703.5" y="961" width="41.5" height="41.5" fill="#808080" stroke="#7a7a7a" stroke-width="1"/>
<text x="2778.6" y="994.6" font-size="37.6" font-weight="normal" text-anchor="start" textLength="68.2" lengthAdjust="spacingAndGlyphs" stroke="#fff" stroke-width="0.2">MEP</text>
<text x="2211.2" y="199.6" font-size="28.4" font-weight="normal" text-anchor="start" textLength="210.6" lengthAdjust="spacingAndGlyphs" stroke="#fff" stroke-width="0.45">ADMINISTRATION</text>
<line x1="1926.2" y1="190.7" x2="2195.8" y2="190.7" stroke="#000" stroke-width="1.3"/>
<text x="2211.2" y="293.9" font-size="28.4" font-weight="normal" text-anchor="start" textLength="119.2" lengthAdjust="spacingAndGlyphs" stroke="#fff" stroke-width="0.45">MEDICINE</text>
<text x="2211.2" y="325.7" font-size="28.4" font-weight="normal" text-anchor="start" textLength="196.2" lengthAdjust="spacingAndGlyphs" stroke="#fff" stroke-width="0.45">INPATIENT CARE</text>
<line x1="1989.1" y1="299.6" x2="2195.8" y2="299.6" stroke="#000" stroke-width="1.3"/>
<text x="2211.2" y="389.9" font-size="28.4" font-weight="normal" text-anchor="start" textLength="210.6" lengthAdjust="spacingAndGlyphs" stroke="#fff" stroke-width="0.45">ADMINISTRATION</text>
<line x1="1926.2" y1="380.9" x2="2195.8" y2="380.9" stroke="#000" stroke-width="1.3"/>
<text x="2211.2" y="482.3" font-size="28.4" font-weight="normal" text-anchor="start" textLength="124.7" lengthAdjust="spacingAndGlyphs" stroke="#fff" stroke-width="0.45">PEDIATRIC</text>
<text x="2211.2" y="514.1" font-size="28.4" font-weight="normal" text-anchor="start" textLength="196.2" lengthAdjust="spacingAndGlyphs" stroke="#fff" stroke-width="0.45">INPATIENT CARE</text>
<line x1="1989.1" y1="487.7" x2="2195.8" y2="487.7" stroke="#000" stroke-width="1.3"/>
<text x="2211.2" y="570.4" font-size="28.4" font-weight="normal" text-anchor="start" textLength="210.6" lengthAdjust="spacingAndGlyphs" stroke="#fff" stroke-width="0.45">ADMINISTRATION</text>
<line x1="1926.2" y1="561.1" x2="2195.8" y2="561.1" stroke="#000" stroke-width="1.3"/>
<text x="2211.2" y="665" font-size="28.4" font-weight="normal" text-anchor="start" textLength="87.5" lengthAdjust="spacingAndGlyphs" stroke="#fff" stroke-width="0.45">OBGYN</text>
<text x="2211.2" y="696.8" font-size="28.4" font-weight="normal" text-anchor="start" textLength="229.5" lengthAdjust="spacingAndGlyphs" stroke="#fff" stroke-width="0.45">LABOR &amp; DELIVERY</text>
<line x1="2028.2" y1="670.7" x2="2195.8" y2="670.7" stroke="#000" stroke-width="1.8"/>
<text x="2211.2" y="852" font-size="28.4" font-weight="normal" text-anchor="start" textLength="125.5" lengthAdjust="spacingAndGlyphs" stroke="#fff" stroke-width="0.45">INTENISVE</text>
<text x="2211.2" y="883.8" font-size="28.4" font-weight="normal" text-anchor="start" textLength="129.3" lengthAdjust="spacingAndGlyphs" stroke="#fff" stroke-width="0.45">CARE UNIT</text>
<line x1="2028.2" y1="858" x2="2195.8" y2="858" stroke="#000" stroke-width="1.3"/>
<text x="2211.2" y="1039.3" font-size="28.4" font-weight="normal" text-anchor="start" textLength="126" lengthAdjust="spacingAndGlyphs" stroke="#fff" stroke-width="0.45">INTENSIVE</text>
<text x="2211.2" y="1071.1" font-size="28.4" font-weight="normal" text-anchor="start" textLength="129.3" lengthAdjust="spacingAndGlyphs" stroke="#fff" stroke-width="0.45">CARE UNIT</text>
<line x1="2028.2" y1="1044.9" x2="2195.8" y2="1044.9" stroke="#000" stroke-width="1.3"/>
<text x="2211.2" y="1226.5" font-size="28.4" font-weight="normal" text-anchor="start" textLength="32" lengthAdjust="spacingAndGlyphs" stroke="#fff" stroke-width="0.45">OT</text>
<text x="2211.2" y="1258.3" font-size="28.4" font-weight="normal" text-anchor="start" textLength="121.4" lengthAdjust="spacingAndGlyphs" stroke="#fff" stroke-width="0.45">COMPLEX</text>
<line x1="2028.2" y1="1232.2" x2="2195.8" y2="1232.2" stroke="#000" stroke-width="1.3"/>
<text x="2211.2" y="1413.5" font-size="28.4" font-weight="normal" text-anchor="start" textLength="32" lengthAdjust="spacingAndGlyphs" stroke="#fff" stroke-width="0.45">OT</text>
<text x="2211.2" y="1445.3" font-size="28.4" font-weight="normal" text-anchor="start" textLength="121.4" lengthAdjust="spacingAndGlyphs" stroke="#fff" stroke-width="0.45">COMPLEX</text>
<line x1="2028.2" y1="1419.2" x2="2195.8" y2="1419.2" stroke="#000" stroke-width="1.6"/>
<text x="2211.2" y="1600.7" font-size="28.4" font-weight="normal" text-anchor="start" textLength="153.1" lengthAdjust="spacingAndGlyphs" stroke="#fff" stroke-width="0.45">EMERGENCY</text>
<text x="2211.2" y="1632.5" font-size="28.4" font-weight="normal" text-anchor="start" textLength="163.6" lengthAdjust="spacingAndGlyphs" stroke="#fff" stroke-width="0.45">DEPARTMENT</text>
<line x1="2028.2" y1="1606.6" x2="2195.8" y2="1606.6" stroke="#000" stroke-width="1.3"/>
<text x="2211.2" y="1770" font-size="28.4" font-weight="normal" text-anchor="start" textLength="112.9" lengthAdjust="spacingAndGlyphs" stroke="#fff" stroke-width="0.45">CENTRAL</text>
<text x="2211.2" y="1801.8" font-size="28.4" font-weight="normal" text-anchor="start" textLength="185.6" lengthAdjust="spacingAndGlyphs" stroke="#fff" stroke-width="0.45">LABORATORIES</text>
<line x1="2028" y1="1776" x2="2195.8" y2="1776" stroke="#000" stroke-width="1.8"/>
<text x="2211.2" y="1860.3" font-size="28.4" font-weight="normal" text-anchor="start" textLength="177.5" lengthAdjust="spacingAndGlyphs" stroke="#fff" stroke-width="0.45">STERILIZATION</text>
<line x1="1953" y1="1855.4" x2="2195.8" y2="1855.4" stroke="#000" stroke-width="1.3"/>
<text x="2211.2" y="1906.3" font-size="28.4" font-weight="normal" text-anchor="start" textLength="182.4" lengthAdjust="spacingAndGlyphs" stroke="#fff" stroke-width="0.45">FOOD SERVICE</text>
<line x1="1853.6" y1="1900.9" x2="2195.8" y2="1900.9" stroke="#000" stroke-width="1.3"/>
<text x="2211.2" y="1993" font-size="28.4" font-weight="normal" text-anchor="start" textLength="113.8" lengthAdjust="spacingAndGlyphs" stroke="#fff" stroke-width="0.45">LAUNDRY</text>
<line x1="1910" y1="1984.7" x2="2195.8" y2="1984.7" stroke="#000" stroke-width="1.8"/>
<text x="1554.7" y="313.7" font-size="28.4" font-weight="normal" text-anchor="end" textLength="113.8" lengthAdjust="spacingAndGlyphs" stroke="#fff" stroke-width="0.45">SURGERY</text>
<text x="1554.7" y="345.5" font-size="28.4" font-weight="normal" text-anchor="end" textLength="196.2" lengthAdjust="spacingAndGlyphs" stroke="#fff" stroke-width="0.45">INPATIENT CARE</text>
<line x1="1573.7" y1="319.1" x2="1801.3" y2="319.1" stroke="#000" stroke-width="1.3"/>
<text x="1554.7" y="502.5" font-size="28.4" font-weight="normal" text-anchor="end" textLength="113.8" lengthAdjust="spacingAndGlyphs" stroke="#fff" stroke-width="0.45">SURGERY</text>
<text x="1554.7" y="534.3" font-size="28.4" font-weight="normal" text-anchor="end" textLength="196.2" lengthAdjust="spacingAndGlyphs" stroke="#fff" stroke-width="0.45">INPATIENT CARE</text>
<line x1="1573.7" y1="508.5" x2="1801.3" y2="508.5" stroke="#000" stroke-width="1.3"/>
<text x="1554.7" y="626.7" font-size="28.4" font-weight="normal" text-anchor="end" textLength="84.6" lengthAdjust="spacingAndGlyphs" stroke="#fff" stroke-width="0.45">NICU &amp;</text>
<text x="1554.7" y="658.5" font-size="28.4" font-weight="normal" text-anchor="end" textLength="87.3" lengthAdjust="spacingAndGlyphs" stroke="#fff" stroke-width="0.45">SCANU</text>
<line x1="1573.7" y1="633.2" x2="1761.5" y2="633.2" stroke="#000" stroke-width="1.3"/>
<text x="1554.7" y="872" font-size="28.4" font-weight="normal" text-anchor="end" textLength="151.8" lengthAdjust="spacingAndGlyphs" stroke="#fff" stroke-width="0.45">OUTPATIENT</text>
<text x="1554.7" y="903.8" font-size="28.4" font-weight="normal" text-anchor="end" textLength="163.6" lengthAdjust="spacingAndGlyphs" stroke="#fff" stroke-width="0.45">DEPARTMENT</text>
<line x1="1573.7" y1="878" x2="1804.7" y2="878" stroke="#000" stroke-width="1.6"/>
<text x="1548" y="1059" font-size="28.4" font-weight="normal" text-anchor="end" textLength="151.8" lengthAdjust="spacingAndGlyphs" stroke="#fff" stroke-width="0.45">OUTPATIENT</text>
<text x="1554.7" y="1090.8" font-size="28.4" font-weight="normal" text-anchor="end" textLength="163.6" lengthAdjust="spacingAndGlyphs" stroke="#fff" stroke-width="0.45">DEPARTMENT</text>
<line x1="1573.7" y1="1065.3" x2="1804.7" y2="1065.3" stroke="#000" stroke-width="1.3"/>
<text x="1554.7" y="1245.5" font-size="28.4" font-weight="normal" text-anchor="end" textLength="151.8" lengthAdjust="spacingAndGlyphs" stroke="#fff" stroke-width="0.45">OUTPATIENT</text>
<text x="1554.7" y="1277.3" font-size="28.4" font-weight="normal" text-anchor="end" textLength="163.6" lengthAdjust="spacingAndGlyphs" stroke="#fff" stroke-width="0.45">DEPARTMENT</text>
<line x1="1573.7" y1="1252" x2="1804.7" y2="1252" stroke="#000" stroke-width="1.5"/>
<text x="1554.7" y="1456.9" font-size="28.4" font-weight="normal" text-anchor="end" textLength="206.5" lengthAdjust="spacingAndGlyphs" stroke="#fff" stroke-width="0.45">OP DEPARTMENT</text>
<text x="1554.7" y="1488.7" font-size="28.4" font-weight="normal" text-anchor="end" textLength="151.2" lengthAdjust="spacingAndGlyphs" stroke="#fff" stroke-width="0.45">&amp; IVF CLINIC</text>
<line x1="1573.7" y1="1462.9" x2="1875.6" y2="1462.9" stroke="#000" stroke-width="2.2"/>
<text x="1554.7" y="1667" font-size="28.4" font-weight="normal" text-anchor="end" textLength="108.9" lengthAdjust="spacingAndGlyphs" stroke="#fff" stroke-width="0.45">IMAGING</text>
<line x1="1573.7" y1="1659.6" x2="1894.1" y2="1659.6" stroke="#000" stroke-width="1.3"/>
<text x="1548" y="1781.3" font-size="28.4" font-weight="normal" text-anchor="end" textLength="112.9" lengthAdjust="spacingAndGlyphs" stroke="#fff" stroke-width="0.45">CENTRAL</text>
<text x="1554.7" y="1813.1" font-size="28.4" font-weight="normal" text-anchor="end" textLength="137.7" lengthAdjust="spacingAndGlyphs" stroke="#fff" stroke-width="0.45">PHARMACY</text>
<line x1="1573.7" y1="1787" x2="1789.2" y2="1787" stroke="#000" stroke-width="1.3"/>
<text x="1554.7" y="1863.6" font-size="28.4" font-weight="normal" text-anchor="end" textLength="108.9" lengthAdjust="spacingAndGlyphs" stroke="#fff" stroke-width="0.45">IMAGING</text>
<line x1="1573.7" y1="1856.9" x2="1838" y2="1856.9" stroke="#000" stroke-width="1.3"/>
<text x="1554.7" y="1976.1" font-size="28.4" font-weight="normal" text-anchor="end" textLength="111.1" lengthAdjust="spacingAndGlyphs" stroke="#fff" stroke-width="0.45">MORGUE</text>
<line x1="1573.7" y1="1967.4" x2="1817" y2="1967.4" stroke="#000" stroke-width="1.3"/>
</svg>
</body></html>
